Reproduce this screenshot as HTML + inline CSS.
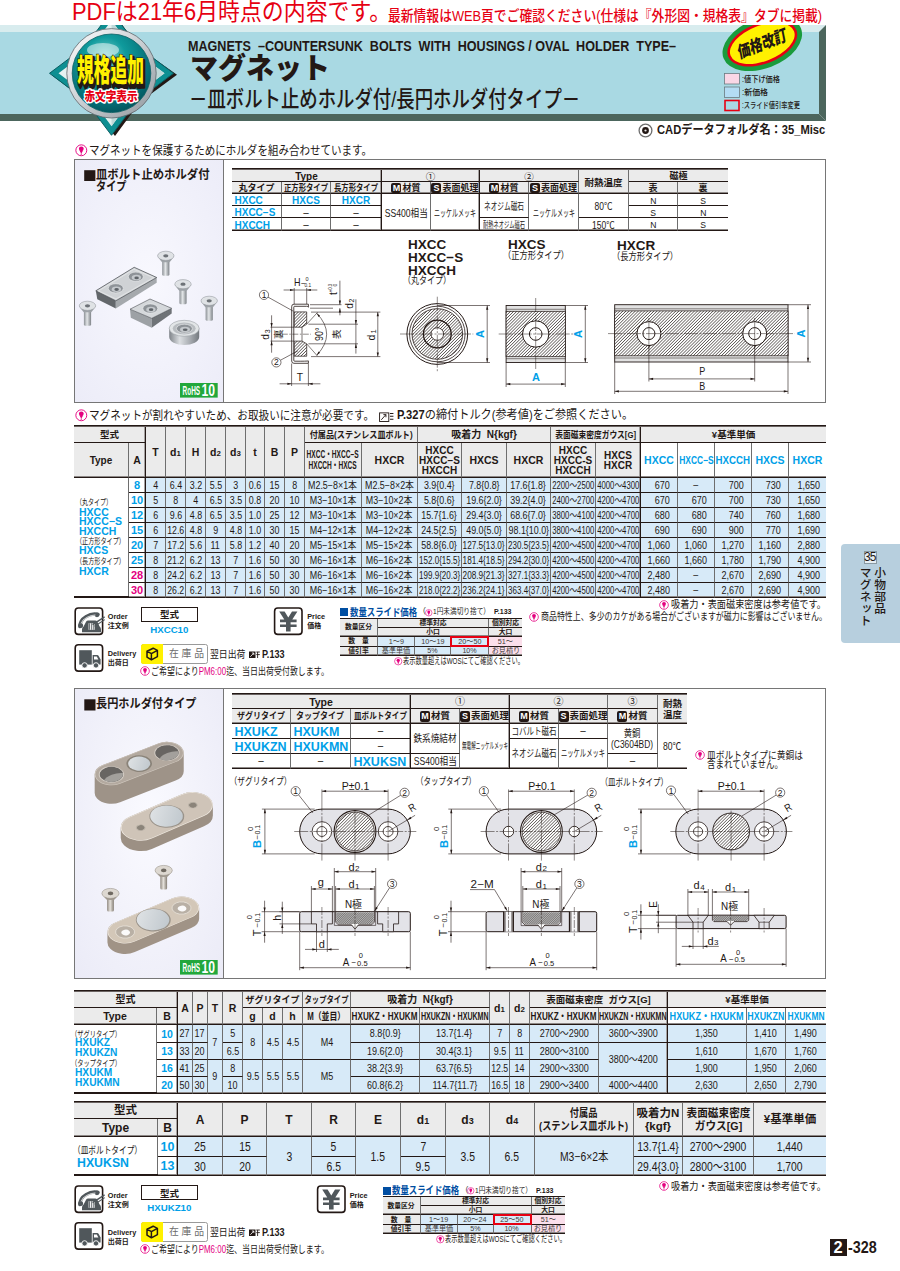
<!DOCTYPE html>
<html lang="ja">
<head>
<meta charset="utf-8">
<title>マグネット −皿ボルト止めホルダ付/長円ホルダ付タイプ−</title>
<style>
html,body{margin:0;padding:0;background:#fff}
#pg{position:relative;width:900px;height:1271px;overflow:hidden;font-family:"Liberation Sans","Noto Sans CJK JP",sans-serif;color:#231815;font-size:10px;line-height:1}
.a{position:absolute}
.t{position:absolute;white-space:nowrap;display:block}
.c{position:absolute;box-sizing:border-box;display:flex;align-items:center;justify-content:center;white-space:nowrap;text-align:center;line-height:1}
svg{position:absolute;overflow:visible}
.bl{color:#009fe8}
.mg{color:#e4007f}
.rd{color:#e60012}
.c{border-right:1px solid #6e6e6e;border-bottom:1px solid #231815;padding-top:1px}
.d3{padding-top:3px}
.nr{border-right:none}
.nb{border-bottom:none}
.tb{box-shadow:inset 0 -1px 0 #8d8886}
.tr{border-right:1px solid #231815;box-shadow:inset -1px 0 0 #a5a1a0}
.tb.tr{box-shadow:inset 0 -1px 0 #8d8886,inset -1px 0 0 #a5a1a0}
.hd{background:#ebebeb;font-weight:700}
.dt{background:#d7eaf8;padding-top:2px}
.pk{background:#fbdfeb}
.ms{display:inline-block;background:#231815;color:#fff;font-weight:700;font-size:9px;line-height:10px;width:10px;height:10.5px;border-radius:2px;margin-right:1px;text-align:center;font-family:"Liberation Sans",sans-serif}
small{font-size:75%}

</style>
</head>
<body>
<div id="pg">
<span class="t" style="top:1.05px;font-size:23.5px;line-height:23.5px;color:#e60012;left:71.5px;transform:scaleX(0.932);transform-origin:left center;">PDFは21年6月時点の内容です。</span>
<span class="t" style="top:8.75px;font-size:14.5px;line-height:14.5px;font-weight:500;color:#e60012;left:388px;transform:scaleX(0.882);transform-origin:left center;">最新情報はWEB頁でご確認ください(仕様は『外形図・規格表』タブに掲載)</span>
<svg style="left:0;top:25px;overflow:hidden" width="900" height="115" viewBox="0 25 900 115"><defs><radialGradient id="gb" cx="0.42" cy="0.3" r="0.75"><stop offset="0" stop-color="#7fd3cf"/><stop offset="0.35" stop-color="#0f9a9c"/><stop offset="0.8" stop-color="#046a72"/><stop offset="1" stop-color="#035058"/></radialGradient><linearGradient id="gr" x1="0" y1="0" x2="1" y2="1"><stop offset="0" stop-color="#ffffff"/><stop offset="0.5" stop-color="#c9ced2"/><stop offset="1" stop-color="#8e969c"/></linearGradient></defs><polygon points="0,114 819,114 826,121 0,121" fill="#4c665d"/><polygon points="819,32 826,25 826,121 819,114" fill="#4c665d"/><rect x="0" y="25" width="826" height="7" fill="#d8ecee"/><rect x="0" y="32" width="819" height="82" fill="#a9d9e3"/><polygon points="819,32 826,25 826,32" fill="#4c665d"/><polygon points="52,75.3 87,48.7 113.5,13.3 140,48.7 177,74.8 140,101.9 115,136 87,101.9" fill="#231815"/><polygon points="49.5,73.3 84.9,46.7 111.5,11.3 138.1,46.7 173.5,73.3 138.1,99.9 111.5,135.3 84.9,99.9" fill="#0e8f92" stroke="#0a5f63" stroke-width="1"/><polygon points="58.5,73.3 90,49.7 111.5,20.3 133,49.7 164.5,73.3 133,96.9 111.5,126.3 90,96.9" fill="#e4f2f1"/><polygon points="111.5,20.3 133,49.7 164.5,73.3 133,96.9 111.5,126.3" fill="#bfd9d9"/><circle cx="111.5" cy="73.3" r="44.7" fill="url(#gr)" stroke="#5d666b" stroke-width="0.8"/><circle cx="111.5" cy="73.3" r="39.3" fill="url(#gb)" stroke="#0a5f63" stroke-width="0.8"/><ellipse cx="103" cy="50" rx="16" ry="7" fill="#ffffff" opacity="0.5"/><text x="110.5" y="81" text-anchor="middle" font-size="30.5" font-weight="900" textLength="67" lengthAdjust="spacingAndGlyphs" fill="#231815" stroke="#231815" stroke-width="4" stroke-linejoin="round" transform="translate(1.5,2.5)">規格追加</text><text x="110.5" y="81" text-anchor="middle" font-size="30.5" font-weight="900" textLength="67" lengthAdjust="spacingAndGlyphs" fill="#fff100" stroke="#231815" stroke-width="1.2" paint-order="stroke">規格追加</text><text x="111" y="100.5" text-anchor="middle" font-size="12.5" font-weight="900" textLength="53" lengthAdjust="spacingAndGlyphs" fill="#e60012" stroke="#ffffff" stroke-width="3" stroke-linejoin="round" paint-order="stroke">赤文字表示</text><g transform="translate(762.3,43.4) rotate(-21)"><ellipse cx="0" cy="0" rx="41.5" ry="25" fill="#1a9b3c"/><ellipse cx="0" cy="0" rx="36.6" ry="20.4" fill="#e60012"/><ellipse cx="0" cy="0" rx="34" ry="17.8" fill="#fff100"/><text x="0" y="6" text-anchor="middle" font-size="16.5" font-weight="900" textLength="52" lengthAdjust="spacingAndGlyphs" fill="#231815" transform="skewX(-10)">価格改訂</text></g><rect x="724.5" y="73.5" width="15" height="10.5" fill="#f9d7e6" stroke="#6b7a80" stroke-width="0.8"/><rect x="724.5" y="87" width="15" height="10.5" fill="#b4dcf4" stroke="#6b7a80" stroke-width="0.8"/><rect x="725" y="100.5" width="14" height="10" fill="#a9d9e3" stroke="#e60012" stroke-width="1.6"/></svg>
<span class="t" style="top:38.5px;font-size:14px;line-height:14px;font-weight:700;color:#231815;left:188px;transform:scaleX(0.899);transform-origin:left center;">MAGNETS &nbsp;–COUNTERSUNK &nbsp;BOLTS &nbsp;WITH &nbsp;HOUSINGS / OVAL &nbsp;HOLDER &nbsp;TYPE–</span>
<span class="t" style="top:55px;font-size:29px;line-height:29px;font-weight:900;color:#231815;left:190px;transform:scaleX(0.965);transform-origin:left center;">マグネット</span>
<span class="t" style="top:89.25px;font-size:22.5px;line-height:22.5px;font-weight:500;color:#231815;left:189px;transform:scaleX(0.817);transform-origin:left center;">－皿ボルト止めホルダ付/長円ホルダ付タイプ－</span>
<span class="t" style="top:74.75px;font-size:8.5px;line-height:8.5px;font-weight:500;color:#231815;left:742px;transform:scaleX(0.847);transform-origin:left center;">:値下げ価格</span>
<span class="t" style="top:88.25px;font-size:8.5px;line-height:8.5px;font-weight:500;color:#231815;left:742px;transform:scaleX(0.933);transform-origin:left center;">:新価格</span>
<span class="t" style="top:101.25px;font-size:8.5px;line-height:8.5px;font-weight:500;color:#231815;left:742px;transform:scaleX(0.735);transform-origin:left center;">:スライド値引率変更</span>
<svg style="left:638px;top:122.7px" width="15" height="15" viewBox="0 0 15 15"><circle cx="7.5" cy="7.5" r="6.4" fill="#fff" stroke="#6d6d6d" stroke-width="1.3"/><circle cx="7.5" cy="7.5" r="3.4" fill="#231815"/><circle cx="7.5" cy="7.5" r="1.1" fill="#e8e8e8"/></svg>
<span class="t" style="top:124.05px;font-size:12.5px;line-height:12.5px;font-weight:700;color:#231815;left:656.7px;transform:scaleX(0.894);transform-origin:left center;">CADデータフォルダ名：35_Misc</span>
<svg style="left:74.7px;top:144px" width="12.6" height="12.6" viewBox="0 0 12 12"><circle cx="6" cy="6" r="5.2" fill="#fff" stroke="#e4007f" stroke-width="0.9"/><circle cx="6" cy="4.6" r="2.3" fill="#e4007f"/><polygon points="4.3,6.2 7.7,6.2 6,9.4" fill="#e4007f"/><rect x="5.3" y="9.2" width="1.4" height="0.9" fill="#e4007f"/></svg>
<span class="t" style="top:144.5px;font-size:12px;line-height:12px;left:88.5px;transform:scaleX(0.877);transform-origin:left center;">マグネットを保護するためにホルダを組み合わせています。</span>
<div class="a" style="left:74px;top:159px;width:752px;height:244px;border:1px solid #767676;box-sizing:border-box;"></div>
<div class="a" style="left:75px;top:160px;width:148px;height:242px;background:radial-gradient(ellipse at 50% 50%,#f8f8fe 0%,#f2f2fb 50%,#ececf8 100%);"></div>
<div class="a" style="left:223px;top:160px;width:1px;height:242px;background:#767676;"></div>
<svg style="left:84px;top:170px" width="12" height="12"><rect x="0.2" y="0.2" width="11.2" height="10.8" fill="#231815"/></svg>
<span class="t" style="top:169.35px;font-size:12.5px;line-height:12.5px;font-weight:700;left:96.2px;transform:scaleX(0.908);transform-origin:left center;">皿ボルト止めホルダ付</span>
<span class="t" style="top:181.15px;font-size:12.5px;line-height:12.5px;font-weight:700;left:96.2px;transform:scaleX(0.813);transform-origin:left center;">タイプ</span>
<svg style="left:75px;top:240px" width="150" height="160" viewBox="75 240 150 160"><defs><linearGradient id="gsh" x1="0" y1="0" x2="1" y2="0"><stop offset="0" stop-color="#8b9095"/><stop offset="0.45" stop-color="#e3e6e8"/><stop offset="1" stop-color="#7d8287"/></linearGradient><linearGradient id="gcy" x1="0" y1="0" x2="1" y2="0"><stop offset="0" stop-color="#7f8489"/><stop offset="0.35" stop-color="#dcdfe2"/><stop offset="0.7" stop-color="#a7abb0"/><stop offset="1" stop-color="#74797e"/></linearGradient></defs><rect x="162.2" y="256.8" width="7.2" height="19" rx="1.5" fill="url(#gsh)"/><path d="M157.6,255.8 Q160.8,261.3 162.2,262.3 L169.4,262.3 Q170.8,261.3 174,255.8 Z" fill="#9ea3a8"/><ellipse cx="165.8" cy="255.8" rx="8.2" ry="4.6" fill="#dfe2e5" stroke="#8a8f94" stroke-width="0.5"/><ellipse cx="165.8" cy="255.8" rx="2.6" ry="1.6" fill="#6d7277"/><rect x="179.4" y="285.2" width="7.2" height="19" rx="1.5" fill="url(#gsh)"/><path d="M174.8,284.2 Q178,289.7 179.4,290.7 L186.6,290.7 Q188,289.7 191.2,284.2 Z" fill="#9ea3a8"/><ellipse cx="183" cy="284.2" rx="8.2" ry="4.6" fill="#dfe2e5" stroke="#8a8f94" stroke-width="0.5"/><ellipse cx="183" cy="284.2" rx="2.6" ry="1.6" fill="#6d7277"/><rect x="205.6" y="301.8" width="7.2" height="19" rx="1.5" fill="url(#gsh)"/><path d="M201,300.8 Q204.2,306.3 205.6,307.3 L212.8,307.3 Q214.2,306.3 217.4,300.8 Z" fill="#9ea3a8"/><ellipse cx="209.2" cy="300.8" rx="8.2" ry="4.6" fill="#dfe2e5" stroke="#8a8f94" stroke-width="0.5"/><ellipse cx="209.2" cy="300.8" rx="2.6" ry="1.6" fill="#6d7277"/><rect x="83.9" y="306.8" width="7.2" height="19" rx="1.5" fill="url(#gsh)"/><path d="M79.3,305.8 Q82.5,311.3 83.9,312.3 L91.1,312.3 Q92.5,311.3 95.7,305.8 Z" fill="#9ea3a8"/><ellipse cx="87.5" cy="305.8" rx="8.2" ry="4.6" fill="#dfe2e5" stroke="#8a8f94" stroke-width="0.5"/><ellipse cx="87.5" cy="305.8" rx="2.6" ry="1.6" fill="#6d7277"/><polygon points="95.8,290.8 115.8,300.8 115.8,308.6 97.3,299.3" fill="#63676b"/><polygon points="115.8,300.8 156.7,277.5 156.7,282.7 115.8,308.6" fill="#a5a9ad"/><polygon points="95.8,290.8 134.2,267.3 156.7,277.5 115.8,300.8" fill="#d3d6d9" stroke="#3f4347" stroke-width="0.7"/><polygon points="98.5,290.9 133.9,269.3 153.6,277.6 116,298.9" fill="#cfd2d5" stroke="#eceeef" stroke-width="0.6"/><ellipse cx="115.8" cy="288.3" rx="7.5" ry="4.6" fill="#8e9398" stroke="#eef0f1" stroke-width="0.6"/><ellipse cx="116.4" cy="289.2" rx="4.65" ry="2.76" fill="#c4c8cc"/><ellipse cx="116.6" cy="289.5" rx="2.25" ry="1.38" fill="#5f6469"/><ellipse cx="135.8" cy="276.7" rx="7.5" ry="4.6" fill="#8e9398" stroke="#eef0f1" stroke-width="0.6"/><ellipse cx="136.4" cy="277.6" rx="4.65" ry="2.76" fill="#c4c8cc"/><ellipse cx="136.6" cy="277.9" rx="2.25" ry="1.38" fill="#5f6469"/><polygon points="130,309.2 151.7,318.3 151.7,327.7 130.8,317.7" fill="#9da1a5"/><polygon points="151.7,318.3 171.7,308.3 171.7,313.5 151.7,327.7" fill="#6f7377"/><polygon points="130,309.2 150,299 171.7,308.3 151.7,318.3" fill="#d5d8db" stroke="#4a4e52" stroke-width="0.6"/><ellipse cx="150.3" cy="308.5" rx="7.5" ry="4.6" fill="#8e9398" stroke="#eef0f1" stroke-width="0.6"/><ellipse cx="150.9" cy="309.4" rx="4.65" ry="2.76" fill="#c4c8cc"/><ellipse cx="151.1" cy="309.7" rx="2.25" ry="1.38" fill="#5f6469"/><path d="M169.2,328.3 L169.2,337 A15,8 0 0 0 199.2,337 L199.2,328.3 Z" fill="url(#gcy)"/><ellipse cx="184.2" cy="328.3" rx="15" ry="8" fill="#e2e5e7" stroke="#9a9fa4" stroke-width="0.6"/><ellipse cx="184.2" cy="328.6" rx="11.5" ry="6" fill="#b9bdc1"/><ellipse cx="184.4" cy="328.6" rx="8" ry="4.4" fill="#8e9398" stroke="#eef0f1" stroke-width="0.6"/><ellipse cx="185" cy="329.5" rx="4.96" ry="2.64" fill="#c4c8cc"/><ellipse cx="185.2" cy="329.8" rx="2.4" ry="1.32" fill="#5f6469"/></svg>
<svg style="left:180.2px;top:383.4px" width="38" height="15" viewBox="0 0 38 15" font-family="'Liberation Sans',sans-serif" font-weight="700" fill="#fff"><rect width="37.7" height="14.6" fill="#22a73b"/><text x="2.6" y="11.8" font-size="12.2" textLength="17.5" lengthAdjust="spacingAndGlyphs">RoHS</text><text x="21.6" y="12.9" font-size="16" textLength="13.5" lengthAdjust="spacingAndGlyphs">10</text></svg>
<div class="a" style="left:232px;top:168px;width:496px;height:2px;z-index:2;background:linear-gradient(#231815 50%,#6a6361 50%);"></div>
<div class="c hd tr d3" style="left:232px;top:169px;width:150px;height:13px;font-size:10px;">Type</div>
<div class="c hd tr d3" style="left:382px;top:169px;width:98px;height:13px;font-size:9.5px;font-weight:400;">①</div>
<div class="c hd d3" style="left:480px;top:169px;width:99px;height:13px;font-size:9.5px;font-weight:400;">②</div>
<div class="c hd tb d3" style="left:579px;top:169px;width:50px;height:25px;font-size:9.5px;">耐熱温度</div>
<div class="c hd nr d3" style="left:629px;top:169px;width:99px;height:13px;font-size:9px;">磁極</div>
<div class="c hd tb" style="left:232px;top:182px;width:50px;height:12px;font-size:9px;">丸タイプ</div>
<div class="c hd tb" style="left:282px;top:182px;width:49px;height:12px;font-size:9px;"><span style="display:inline-block;transform:scaleX(0.815);transform-origin:center center">正方形タイプ</span></div>
<div class="c hd tb tr" style="left:331px;top:182px;width:51px;height:12px;font-size:9px;"><span style="display:inline-block;transform:scaleX(0.815);transform-origin:center center">長方形タイプ</span></div>
<div class="c hd tb" style="left:382px;top:182px;width:49px;height:12px;font-size:9px;"><span><span class="ms">M</span>材質</span></div>
<div class="c hd tb tr" style="left:431px;top:182px;width:49px;height:12px;font-size:9px;"><span><span class="ms">S</span>表面処理</span></div>
<div class="c hd tb" style="left:480px;top:182px;width:49px;height:12px;font-size:9px;"><span><span class="ms">M</span>材質</span></div>
<div class="c hd tb" style="left:529px;top:182px;width:50px;height:12px;font-size:9px;"><span><span class="ms">S</span>表面処理</span></div>
<div class="c hd tb" style="left:629px;top:182px;width:49px;height:12px;font-size:9px;">表</div>
<div class="c hd tb nr" style="left:678px;top:182px;width:50px;height:12px;font-size:9px;">裏</div>
<div class="c bl d3" style="left:232px;top:194px;width:50px;height:12px;font-size:10px;font-weight:700;justify-content:flex-start;padding-left:2.5px;">HXCC</div>
<div class="c bl d3" style="left:282px;top:194px;width:49px;height:12px;font-size:10px;font-weight:700;">HXCS</div>
<div class="c bl tr d3" style="left:331px;top:194px;width:51px;height:12px;font-size:10px;font-weight:700;">HXCR</div>
<div class="c bl d3" style="left:232px;top:206px;width:50px;height:12px;font-size:10px;font-weight:700;justify-content:flex-start;padding-left:2.5px;">HXCC−S</div>
<div class="c d3" style="left:282px;top:206px;width:49px;height:12px;font-size:11px;font-weight:400;">−</div>
<div class="c tr d3" style="left:331px;top:206px;width:51px;height:12px;font-size:11px;font-weight:400;">−</div>
<div class="c bl tb d3" style="left:232px;top:218px;width:50px;height:13px;font-size:10px;font-weight:700;justify-content:flex-start;padding-left:2.5px;">HXCCH</div>
<div class="c tb d3" style="left:282px;top:218px;width:49px;height:13px;font-size:11px;font-weight:400;">−</div>
<div class="c tb tr d3" style="left:331px;top:218px;width:51px;height:13px;font-size:11px;font-weight:400;">−</div>
<div class="c tb d3" style="left:382px;top:194px;width:49px;height:37px;font-size:10.5px;"><span style="display:inline-block;transform:scaleX(0.819);transform-origin:center center">SS400相当</span></div>
<div class="c tb tr d3" style="left:431px;top:194px;width:49px;height:37px;font-size:10px;"><span style="display:inline-block;transform:scaleX(0.600);transform-origin:center center">ニッケルメッキ</span></div>
<div class="c d3" style="left:480px;top:194px;width:49px;height:24px;font-size:10px;"><span style="display:inline-block;transform:scaleX(0.667);transform-origin:center center">ネオジム磁石</span></div>
<div class="c tb d3" style="left:480px;top:218px;width:49px;height:13px;font-size:9px;"><span style="display:inline-block;transform:scaleX(0.583);transform-origin:center center">耐熱ネオジム磁石</span></div>
<div class="c tb d3" style="left:529px;top:194px;width:50px;height:37px;font-size:10px;"><span style="display:inline-block;transform:scaleX(0.600);transform-origin:center center">ニッケルメッキ</span></div>
<div class="c d3" style="left:579px;top:194px;width:50px;height:24px;font-size:10px;"><span style="display:inline-block;transform:scaleX(0.850);transform-origin:center center">80℃</span></div>
<div class="c tb d3" style="left:579px;top:218px;width:50px;height:13px;font-size:10px;"><span style="display:inline-block;transform:scaleX(0.850);transform-origin:center center">150℃</span></div>
<div class="c" style="left:629px;top:194px;width:49px;height:12px;font-size:9.5px;padding-top:2px;"><span style="display:inline-block;transform:scaleX(0.900);transform-origin:center center">N</span></div>
<div class="c nr" style="left:678px;top:194px;width:50px;height:12px;font-size:9.5px;padding-top:2px;"><span style="display:inline-block;transform:scaleX(0.900);transform-origin:center center">S</span></div>
<div class="c" style="left:629px;top:206px;width:49px;height:12px;font-size:9.5px;padding-top:2px;"><span style="display:inline-block;transform:scaleX(0.900);transform-origin:center center">S</span></div>
<div class="c nr" style="left:678px;top:206px;width:50px;height:12px;font-size:9.5px;padding-top:2px;"><span style="display:inline-block;transform:scaleX(0.900);transform-origin:center center">N</span></div>
<div class="c tb" style="left:629px;top:218px;width:49px;height:13px;font-size:9.5px;padding-top:2px;"><span style="display:inline-block;transform:scaleX(0.900);transform-origin:center center">N</span></div>
<div class="c nr tb" style="left:678px;top:218px;width:50px;height:13px;font-size:9.5px;padding-top:2px;"><span style="display:inline-block;transform:scaleX(0.900);transform-origin:center center">S</span></div>
<svg style="left:224px;top:232px" width="602" height="170" viewBox="224 232 602 170" font-family="'Liberation Sans','Noto Sans CJK JP',sans-serif"><defs><pattern id="h1" width="2.2" height="2.2" patternUnits="userSpaceOnUse" patternTransform="rotate(45)"><rect width="2.2" height="2.2" fill="#fff"/><line x1="0" y1="0" x2="0" y2="2.2" stroke="#2e2825" stroke-width="1.15"/></pattern><pattern id="h2" width="1.7" height="1.7" patternUnits="userSpaceOnUse" patternTransform="rotate(45)"><rect width="1.7" height="1.7" fill="#fff"/><line x1="0" y1="0" x2="0" y2="1.7" stroke="#3a3431" stroke-width="0.6"/></pattern></defs><path d="M308.4,304.2 L294,304.2 Q291.7,304.2 291.7,306.5 L291.7,361 Q291.7,363.3 294,363.3 L308.4,363.3 L308.4,360.9 Q307.2,361.3 294.6,361.2 Q293.8,361.2 293.8,360.4 L293.8,307.1 Q293.8,306.3 294.6,306.3 L306.6,306.3 Q308,306.4 308.4,307.2 Z" fill="#fff" stroke="#231815" stroke-width="0.8"/><polygon points="294.3,311.9 306.7,311.9 306.7,324.2 302,327.2 294.3,327.2" fill="url(#h1)" stroke="#231815" stroke-width="0.7"/><polygon points="294.3,341.1 302,341.1 306.7,343.8 306.7,356.2 294.3,356.2" fill="url(#h1)" stroke="#231815" stroke-width="0.7"/><line x1="302" y1="327.2" x2="302" y2="341.1" stroke="#231815" stroke-width="0.6"/><line x1="281.8" y1="334.2" x2="311" y2="334.2" stroke="#231815" stroke-width="0.5" stroke-dasharray="6 1.5 1.5 1.5"/><line x1="294.2" y1="288" x2="294.2" y2="304" stroke="#231815" stroke-width="0.6"/><line x1="306.7" y1="288" x2="306.7" y2="304" stroke="#231815" stroke-width="0.6"/><line x1="283.6" y1="290" x2="317.3" y2="290" stroke="#231815" stroke-width="0.6"/><polygon points="294.2,290 290,291.1 290,288.9" fill="#231815"/><polygon points="306.7,290 310.9,288.9 310.9,291.1" fill="#231815"/><text x="294" y="286" font-size="11" fill="#231815" textLength="6.5" lengthAdjust="spacingAndGlyphs">H</text><text x="301" y="285.5" font-size="8" fill="#231815">−</text><text x="305.5" y="280.6" font-size="5.5" fill="#231815">0</text><text x="304.5" y="287.2" font-size="5.5" fill="#231815" textLength="6.5" lengthAdjust="spacingAndGlyphs">0.1</text><line x1="310" y1="304.7" x2="341.5" y2="304.7" stroke="#231815" stroke-width="0.6"/><line x1="310" y1="308.2" x2="333" y2="308.2" stroke="#231815" stroke-width="0.6"/><line x1="311" y1="312.1" x2="380.4" y2="312.1" stroke="#231815" stroke-width="0.6"/><line x1="339.9" y1="280.7" x2="339.9" y2="304.7" stroke="#231815" stroke-width="0.6"/><polygon points="339.9,304.7 338.8,300.5 341,300.5" fill="#231815"/><line x1="339.9" y1="308.2" x2="339.9" y2="315.3" stroke="#231815" stroke-width="0.6"/><polygon points="339.9,308.2 341,312.4 338.8,312.4" fill="#231815"/><text x="336.5" y="293.5" font-size="10" fill="#231815" text-anchor="middle" transform="rotate(-90 336.5 293.5)">t</text><text x="331.8" y="288" font-size="5" fill="#231815" text-anchor="middle" textLength="8.5" lengthAdjust="spacingAndGlyphs" transform="rotate(-90 331.8 288)">+0.3</text><text x="336.6" y="285" font-size="5" fill="#231815" text-anchor="middle" transform="rotate(-90 336.6 285)">0</text><line x1="308.4" y1="324.2" x2="358" y2="324.2" stroke="#231815" stroke-width="0.6"/><line x1="308.4" y1="343.8" x2="358" y2="343.8" stroke="#231815" stroke-width="0.6"/><line x1="355.9" y1="299.3" x2="355.9" y2="353.6" stroke="#231815" stroke-width="0.6"/><polygon points="355.9,324.2 354.8,320 357,320" fill="#231815"/><polygon points="355.9,343.8 357,348 354.8,348" fill="#231815"/><text x="353.2" y="306" font-size="10" fill="#231815" text-anchor="middle" transform="rotate(-90 353.2 306)">d</text><text x="353.5" y="300.5" font-size="7" fill="#231815" text-anchor="middle" transform="rotate(-90 353.5 300.5)">2</text><line x1="311" y1="356.6" x2="380.4" y2="356.6" stroke="#231815" stroke-width="0.6"/><line x1="377.8" y1="312.1" x2="377.8" y2="356.6" stroke="#231815" stroke-width="0.6"/><polygon points="377.8,312.1 378.9,316.3 376.7,316.3" fill="#231815"/><polygon points="377.8,356.6 376.7,352.4 378.9,352.4" fill="#231815"/><text x="375.2" y="337.5" font-size="10.5" fill="#231815" text-anchor="middle" transform="rotate(-90 375.2 337.5)">d</text><text x="375.5" y="331.5" font-size="7.5" fill="#231815" text-anchor="middle" transform="rotate(-90 375.5 331.5)">1</text><line x1="306.7" y1="324.2" x2="317.6" y2="312.3" stroke="#231815" stroke-width="0.55"/><line x1="306.7" y1="343.8" x2="317.6" y2="356.2" stroke="#231815" stroke-width="0.55"/><path d="M316.8,313.3 Q336.5,334.2 316.8,355.2" fill="none" stroke="#231815" stroke-width="0.6"/><polygon points="316.8,313.3 320.08,315.8 318.52,317.05" fill="#231815"/><polygon points="316.8,355.2 318.52,351.45 320.08,352.7" fill="#231815"/><text x="323.2" y="334.2" font-size="10" fill="#231815" text-anchor="middle" textLength="13.5" lengthAdjust="spacingAndGlyphs" transform="rotate(-90 323.2 334.2)">90°</text><text x="339.6" y="334.2" font-size="9.5" fill="#231815" text-anchor="middle" transform="rotate(-90 339.6 334.2)">表</text><text x="281.8" y="334.2" font-size="9.5" fill="#231815" text-anchor="middle" transform="rotate(-90 281.8 334.2)">裏</text><line x1="270.5" y1="327.2" x2="294" y2="327.2" stroke="#231815" stroke-width="0.6"/><line x1="270.5" y1="341.1" x2="294" y2="341.1" stroke="#231815" stroke-width="0.6"/><line x1="271.6" y1="315.3" x2="271.6" y2="352.7" stroke="#231815" stroke-width="0.6"/><polygon points="271.6,327.2 270.5,323 272.7,323" fill="#231815"/><polygon points="271.6,341.1 272.7,345.3 270.5,345.3" fill="#231815"/><text x="269.3" y="337" font-size="10" fill="#231815" text-anchor="middle" transform="rotate(-90 269.3 337)">d</text><text x="269.6" y="331.3" font-size="7" fill="#231815" text-anchor="middle" transform="rotate(-90 269.6 331.3)">3</text><line x1="291.6" y1="363.5" x2="291.6" y2="386" stroke="#231815" stroke-width="0.6"/><line x1="308.4" y1="363.5" x2="308.4" y2="386" stroke="#231815" stroke-width="0.6"/><line x1="279.6" y1="383.8" x2="320.4" y2="383.8" stroke="#231815" stroke-width="0.6"/><polygon points="291.6,383.8 287.4,384.9 287.4,382.7" fill="#231815"/><polygon points="308.4,383.8 312.6,382.7 312.6,384.9" fill="#231815"/><text x="300" y="381.3" font-size="11" fill="#231815" text-anchor="middle" textLength="6.3" lengthAdjust="spacingAndGlyphs">T</text><line x1="268.02" y1="297.14" x2="293.3" y2="311.2" stroke="#231815" stroke-width="0.6"/><circle cx="264" cy="294.9" r="4.6" fill="#fff" stroke="#231815" stroke-width="0.6"/><text x="264" y="297.9" font-size="8.5" fill="#231815" text-anchor="middle">1</text><line x1="280.45" y1="360.22" x2="297.8" y2="350.9" stroke="#231815" stroke-width="0.6"/><circle cx="276.4" cy="362.4" r="4.6" fill="#fff" stroke="#231815" stroke-width="0.6"/><text x="276.4" y="365.4" font-size="8.5" fill="#231815" text-anchor="middle">2</text><circle cx="437.3" cy="334" r="30.4" fill="#fff" stroke="#231815" stroke-width="1.0"/><circle cx="437.3" cy="334" r="27.8" fill="none" stroke="#231815" stroke-width="0.8"/><circle cx="437.3" cy="334" r="25.3" fill="url(#h1)" stroke="#231815" stroke-width="0.8"/><circle cx="437.3" cy="334" r="13.9" fill="none" stroke="#231815" stroke-width="1.3"/><circle cx="437.3" cy="334" r="6.3" fill="#fff" stroke="#231815" stroke-width="0.8"/><line x1="400" y1="334" x2="473.3" y2="334" stroke="#231815" stroke-width="0.5" stroke-dasharray="14 1.5 2 1.5"/><line x1="437.3" y1="296.7" x2="437.3" y2="372.7" stroke="#231815" stroke-width="0.5" stroke-dasharray="14 1.5 2 1.5"/><line x1="437.3" y1="305.5" x2="490" y2="305.5" stroke="#231815" stroke-width="0.6"/><line x1="437.3" y1="362.5" x2="490" y2="362.5" stroke="#231815" stroke-width="0.6"/><line x1="487.2" y1="305.5" x2="487.2" y2="362.5" stroke="#231815" stroke-width="0.6"/><polygon points="487.2,305.5 488.3,309.7 486.1,309.7" fill="#231815"/><polygon points="487.2,362.5 486.1,358.3 488.3,358.3" fill="#231815"/><text x="484.2" y="334" font-size="11" font-weight="700" fill="#009fe8" text-anchor="middle" transform="rotate(-90 484.2 334)">A</text><rect x="506.1" y="305.5" width="59.2" height="57" fill="#e2e2e2" stroke="#231815" stroke-width="0.9"/><rect x="506.1" y="311.3" width="59.2" height="45.4" fill="url(#h1)" stroke="#231815" stroke-width="0.7"/><line x1="506.1" y1="309.3" x2="565.3" y2="309.3" stroke="#231815" stroke-width="0.5"/><line x1="506.1" y1="358.7" x2="565.3" y2="358.7" stroke="#231815" stroke-width="0.5"/><circle cx="535.7" cy="334" r="13.2" fill="#fff" stroke="#231815" stroke-width="1.0"/><circle cx="535.7" cy="334" r="6.3" fill="#fff" stroke="#231815" stroke-width="1.0"/><line x1="498.7" y1="334" x2="573.3" y2="334" stroke="#231815" stroke-width="0.5" stroke-dasharray="14 1.5 2 1.5"/><line x1="535.7" y1="298" x2="535.7" y2="370" stroke="#231815" stroke-width="0.5" stroke-dasharray="14 1.5 2 1.5"/><line x1="565.3" y1="305.5" x2="588" y2="305.5" stroke="#231815" stroke-width="0.6"/><line x1="565.3" y1="362.5" x2="588" y2="362.5" stroke="#231815" stroke-width="0.6"/><line x1="585.3" y1="305.5" x2="585.3" y2="362.5" stroke="#231815" stroke-width="0.6"/><polygon points="585.3,305.5 586.4,309.7 584.2,309.7" fill="#231815"/><polygon points="585.3,362.5 584.2,358.3 586.4,358.3" fill="#231815"/><text x="582.2" y="334" font-size="11" font-weight="700" fill="#009fe8" text-anchor="middle" transform="rotate(-90 582.2 334)">A</text><line x1="506.1" y1="362.5" x2="506.1" y2="387" stroke="#231815" stroke-width="0.6"/><line x1="565.3" y1="362.5" x2="565.3" y2="387" stroke="#231815" stroke-width="0.6"/><line x1="506.1" y1="384.1" x2="565.3" y2="384.1" stroke="#231815" stroke-width="0.6"/><polygon points="506.1,384.1 510.3,383 510.3,385.2" fill="#231815"/><polygon points="565.3,384.1 561.1,385.2 561.1,383" fill="#231815"/><text x="536" y="381.2" font-size="11" font-weight="700" fill="#009fe8" text-anchor="middle">A</text><rect x="614.7" y="304.7" width="173.3" height="57.3" fill="#e2e2e2" stroke="#231815" stroke-width="0.9"/><rect x="614.7" y="310.9" width="173.3" height="44.9" fill="url(#h1)" stroke="#231815" stroke-width="0.7"/><line x1="614.7" y1="308.8" x2="788" y2="308.8" stroke="#231815" stroke-width="0.5"/><line x1="614.7" y1="358" x2="788" y2="358" stroke="#231815" stroke-width="0.5"/><circle cx="648.9" cy="333.6" r="12" fill="#fff" stroke="#231815" stroke-width="1.0"/><circle cx="648.9" cy="333.6" r="6" fill="#fff" stroke="#231815" stroke-width="1.0"/><line x1="648.9" y1="318" x2="648.9" y2="349" stroke="#231815" stroke-width="0.5"/><line x1="648.9" y1="345" x2="648.9" y2="381.5" stroke="#231815" stroke-width="0.6"/><circle cx="754.7" cy="333.6" r="12" fill="#fff" stroke="#231815" stroke-width="1.0"/><circle cx="754.7" cy="333.6" r="6" fill="#fff" stroke="#231815" stroke-width="1.0"/><line x1="754.7" y1="318" x2="754.7" y2="349" stroke="#231815" stroke-width="0.5"/><line x1="754.7" y1="345" x2="754.7" y2="381.5" stroke="#231815" stroke-width="0.6"/><line x1="608" y1="333.6" x2="794.7" y2="333.6" stroke="#231815" stroke-width="0.5" stroke-dasharray="14 1.5 2 1.5"/><line x1="788" y1="304.7" x2="811" y2="304.7" stroke="#231815" stroke-width="0.6"/><line x1="788" y1="362" x2="811" y2="362" stroke="#231815" stroke-width="0.6"/><line x1="808" y1="304.7" x2="808" y2="362" stroke="#231815" stroke-width="0.6"/><polygon points="808,304.7 809.1,308.9 806.9,308.9" fill="#231815"/><polygon points="808,362 806.9,357.8 809.1,357.8" fill="#231815"/><text x="804.9" y="333.6" font-size="11" font-weight="700" fill="#009fe8" text-anchor="middle" transform="rotate(-90 804.9 333.6)">A</text><line x1="648.9" y1="378.9" x2="754.7" y2="378.9" stroke="#231815" stroke-width="0.6"/><polygon points="648.9,378.9 653.1,377.8 653.1,380" fill="#231815"/><polygon points="754.7,378.9 750.5,380 750.5,377.8" fill="#231815"/><text x="702.2" y="375.2" font-size="10.5" fill="#231815" text-anchor="middle" textLength="6" lengthAdjust="spacingAndGlyphs">P</text><line x1="614.7" y1="362" x2="614.7" y2="394" stroke="#231815" stroke-width="0.6"/><line x1="788" y1="362" x2="788" y2="394" stroke="#231815" stroke-width="0.6"/><line x1="614.7" y1="391.3" x2="788" y2="391.3" stroke="#231815" stroke-width="0.6"/><polygon points="614.7,391.3 618.9,390.2 618.9,392.4" fill="#231815"/><polygon points="788,391.3 783.8,392.4 783.8,390.2" fill="#231815"/><text x="702.2" y="389.6" font-size="10.5" fill="#231815" text-anchor="middle" textLength="6" lengthAdjust="spacingAndGlyphs">B</text><text x="408" y="248.7" font-size="13.5" font-weight="700" fill="#231815">HXCC</text><text x="408" y="262" font-size="13.5" font-weight="700" fill="#231815">HXCC−S</text><text x="408" y="275.3" font-size="13.5" font-weight="700" fill="#231815">HXCCH</text><text x="403" y="284.3" font-size="10" fill="#231815" textLength="48" lengthAdjust="spacingAndGlyphs">（丸タイプ）</text><text x="508" y="248.7" font-size="13.5" font-weight="700" fill="#231815">HXCS</text><text x="503" y="258.6" font-size="10" fill="#231815" textLength="66" lengthAdjust="spacingAndGlyphs">（正方形タイプ）</text><text x="617" y="250.2" font-size="13.5" font-weight="700" fill="#231815">HXCR</text><text x="612" y="260.4" font-size="10" fill="#231815" textLength="66" lengthAdjust="spacingAndGlyphs">（長方形タイプ）</text></svg>
<svg style="left:74.7px;top:409px" width="12.6" height="12.6" viewBox="0 0 12 12"><circle cx="6" cy="6" r="5.2" fill="#fff" stroke="#e4007f" stroke-width="0.9"/><circle cx="6" cy="4.6" r="2.3" fill="#e4007f"/><polygon points="4.3,6.2 7.7,6.2 6,9.4" fill="#e4007f"/><rect x="5.3" y="9.2" width="1.4" height="0.9" fill="#e4007f"/></svg>
<span class="t" style="top:409.5px;font-size:12px;line-height:12px;left:88.5px;transform:scaleX(0.883);transform-origin:left center;">マグネットが割れやすいため、お取扱いに注意が必要です。</span>
<svg style="left:379px;top:409.5px" width="15" height="12.7" viewBox="0 0 13 11"><rect x="0.5" y="2.5" width="8" height="7.5" fill="#fff" stroke="#231815" stroke-width="0.8"/><path d="M2,8.5 L6,4 M6,4 L6,6.3 M6,4 L3.8,4" stroke="#231815" stroke-width="0.8" fill="none"/><path d="M9.5,3 h3 M9.5,5.5 h3 M9.5,8 h3" stroke="#231815" stroke-width="0.9"/></svg>
<span class="t" style="top:409.25px;font-size:12.5px;line-height:12.5px;left:397px;transform:scaleX(0.893);transform-origin:left center;"><b>P.327</b>の締付トルク(参考値)をご参照ください。</span>
<div class="a" style="left:74px;top:425px;width:752px;height:2px;z-index:2;background:linear-gradient(#231815 50%,#6a6361 50%);"></div>
<div class="c hd tr" style="left:74px;top:426px;width:72px;height:17px;font-size:9.5px;">型式</div>
<div class="c hd tb" style="left:74px;top:443px;width:55px;height:35px;font-size:10px;">Type</div>
<div class="c hd tb tr" style="left:129px;top:443px;width:17px;height:35px;font-size:10.5px;">A</div>
<div class="c hd tb" style="left:146px;top:426px;width:20px;height:52px;font-size:10.5px;">T</div>
<div class="c hd tb" style="left:166px;top:426px;width:20px;height:52px;font-size:10.5px;"><span>d<small>1</small></span></div>
<div class="c hd tb" style="left:186px;top:426px;width:20px;height:52px;font-size:10.5px;">H</div>
<div class="c hd tb" style="left:206px;top:426px;width:20px;height:52px;font-size:10.5px;"><span>d<small>2</small></span></div>
<div class="c hd tb" style="left:226px;top:426px;width:20px;height:52px;font-size:10.5px;"><span>d<small>3</small></span></div>
<div class="c hd tb" style="left:246px;top:426px;width:19px;height:52px;font-size:10.5px;">t</div>
<div class="c hd tb" style="left:265px;top:426px;width:20px;height:52px;font-size:10.5px;">B</div>
<div class="c hd tb" style="left:285px;top:426px;width:20px;height:52px;font-size:10.5px;">P</div>
<div class="c hd" style="left:305px;top:426px;width:113px;height:17px;font-size:9.5px;"><span style="display:inline-block;transform:scaleX(0.856);transform-origin:center center">付属品(ステンレス皿ボルト)</span></div>
<div class="c hd tb" style="left:305px;top:443px;width:57px;height:35px;font-size:10px;font-weight:700;line-height:10.5px;"><span style="display:inline-block;transform:scaleX(0.657);transform-origin:center center">HXCC・HXCC−S<br>HXCCH・HXCS</span></div>
<div class="c hd tb" style="left:362px;top:443px;width:56px;height:35px;font-size:10.5px;">HXCR</div>
<div class="c hd" style="left:418px;top:426px;width:133px;height:17px;font-size:10px;">吸着力&nbsp; N{kgf}</div>
<div class="c hd tb" style="left:418px;top:443px;width:44px;height:35px;font-size:10px;line-height:10px;"><span>HXCC<br>HXCC−S<br>HXCCH</span></div>
<div class="c hd tb" style="left:462px;top:443px;width:45px;height:35px;font-size:10.5px;">HXCS</div>
<div class="c hd tb" style="left:507px;top:443px;width:44px;height:35px;font-size:10.5px;">HXCR</div>
<div class="c hd tr" style="left:551px;top:426px;width:90px;height:17px;font-size:9.5px;"><span style="display:inline-block;transform:scaleX(0.815);transform-origin:center center">表面磁束密度ガウス[G]</span></div>
<div class="c hd tb" style="left:551px;top:443px;width:45px;height:35px;font-size:10px;line-height:10px;"><span>HXCC<br>HXCC-S<br>HXCCH</span></div>
<div class="c hd tb tr" style="left:596px;top:443px;width:45px;height:35px;font-size:10px;line-height:10px;"><span>HXCS<br>HXCR</span></div>
<div class="c hd nr" style="left:641px;top:426px;width:185px;height:17px;font-size:9.5px;">¥基準単価</div>
<div class="c bl tb" style="left:641px;top:443px;width:37px;height:35px;font-size:10.5px;font-weight:700;background:#fff;">HXCC</div>
<div class="c bl tb" style="left:678px;top:443px;width:37px;height:35px;font-size:10.5px;font-weight:700;background:#fff;"><span style="display:inline-block;transform:scaleX(0.804);transform-origin:center center">HXCC−S</span></div>
<div class="c bl tb" style="left:715px;top:443px;width:37px;height:35px;font-size:10.5px;font-weight:700;background:#fff;"><span style="display:inline-block;transform:scaleX(0.924);transform-origin:center center">HXCCH</span></div>
<div class="c bl tb" style="left:752px;top:443px;width:37px;height:35px;font-size:10.5px;font-weight:700;background:#fff;">HXCS</div>
<div class="c bl tb nr" style="left:789px;top:443px;width:37px;height:35px;font-size:10.5px;font-weight:700;background:#fff;">HXCR</div>
<div class="a" style="left:74px;top:478px;width:54px;height:118px;background:#fff;"></div>
<div class="a" style="left:128px;top:478px;width:1px;height:120px;background:#6e6e6e;"></div>
<div class="a" style="left:74px;top:596px;width:55px;height:2px;background:#231815;"></div>
<span class="t" style="top:498.45px;font-size:8.5px;line-height:8.5px;left:76px;transform:scaleX(0.706);transform-origin:left center;">（丸タイプ）</span>
<span class="t" style="top:506.55px;font-size:10.5px;line-height:10.5px;font-weight:700;color:#009fe8;left:79px;">HXCC</span>
<span class="t" style="top:516.05px;font-size:10.5px;line-height:10.5px;font-weight:700;color:#009fe8;left:79px;">HXCC−S</span>
<span class="t" style="top:525.75px;font-size:10.5px;line-height:10.5px;font-weight:700;color:#009fe8;left:79px;">HXCCH</span>
<span class="t" style="top:537.35px;font-size:8.5px;line-height:8.5px;left:76px;transform:scaleX(0.720);transform-origin:left center;">（正方形タイプ）</span>
<span class="t" style="top:545.45px;font-size:10.5px;line-height:10.5px;font-weight:700;color:#009fe8;left:79px;">HXCS</span>
<span class="t" style="top:556.85px;font-size:8.5px;line-height:8.5px;left:76px;transform:scaleX(0.720);transform-origin:left center;">（長方形タイプ）</span>
<span class="t" style="top:565.85px;font-size:10.5px;line-height:10.5px;font-weight:700;color:#009fe8;left:79px;">HXCR</span>
<div class="c tr" style="left:129px;top:478px;width:17px;height:15px;font-size:11px;font-weight:700;color:#009fe8;background:#fff;">8</div>
<div class="c dt" style="left:146px;top:478px;width:20px;height:15px;font-size:10px;"><span style="display:inline-block;transform:scaleX(0.890);transform-origin:center center">4</span></div>
<div class="c dt" style="left:166px;top:478px;width:20px;height:15px;font-size:10px;"><span style="display:inline-block;transform:scaleX(0.890);transform-origin:center center">6.4</span></div>
<div class="c dt" style="left:186px;top:478px;width:20px;height:15px;font-size:10px;"><span style="display:inline-block;transform:scaleX(0.890);transform-origin:center center">3.2</span></div>
<div class="c dt" style="left:206px;top:478px;width:20px;height:15px;font-size:10px;"><span style="display:inline-block;transform:scaleX(0.890);transform-origin:center center">5.5</span></div>
<div class="c dt" style="left:226px;top:478px;width:20px;height:15px;font-size:10px;"><span style="display:inline-block;transform:scaleX(0.890);transform-origin:center center">3</span></div>
<div class="c dt" style="left:246px;top:478px;width:19px;height:15px;font-size:10px;"><span style="display:inline-block;transform:scaleX(0.890);transform-origin:center center">0.6</span></div>
<div class="c dt" style="left:265px;top:478px;width:20px;height:15px;font-size:10px;"><span style="display:inline-block;transform:scaleX(0.890);transform-origin:center center">15</span></div>
<div class="c dt" style="left:285px;top:478px;width:20px;height:15px;font-size:10px;"><span style="display:inline-block;transform:scaleX(0.890);transform-origin:center center">8</span></div>
<div class="c dt" style="left:305px;top:478px;width:57px;height:15px;font-size:10px;"><span style="display:inline-block;transform:scaleX(0.890);transform-origin:center center">M2.5−8×1本</span></div>
<div class="c dt" style="left:362px;top:478px;width:56px;height:15px;font-size:10px;"><span style="display:inline-block;transform:scaleX(0.890);transform-origin:center center">M2.5−8×2本</span></div>
<div class="c dt" style="left:418px;top:478px;width:44px;height:15px;font-size:10px;"><span style="display:inline-block;transform:scaleX(0.890);transform-origin:center center">3.9{0.4}</span></div>
<div class="c dt" style="left:462px;top:478px;width:45px;height:15px;font-size:10px;"><span style="display:inline-block;transform:scaleX(0.890);transform-origin:center center">7.8{0.8}</span></div>
<div class="c dt" style="left:507px;top:478px;width:44px;height:15px;font-size:10px;"><span style="display:inline-block;transform:scaleX(0.890);transform-origin:center center">17.6{1.8}</span></div>
<div class="c dt" style="left:551px;top:478px;width:45px;height:15px;font-size:10px;"><span style="display:inline-block;transform:scaleX(0.771);transform-origin:center center">2200〜2500</span></div>
<div class="c dt tr" style="left:596px;top:478px;width:45px;height:15px;font-size:10px;"><span style="display:inline-block;transform:scaleX(0.771);transform-origin:center center">4000〜4300</span></div>
<div class="c dt" style="left:641px;top:478px;width:37px;height:15px;font-size:10px;justify-content:flex-end;padding-right:7px;"><span style="display:inline-block;transform:scaleX(0.900);transform-origin:right center">670</span></div>
<div class="c dt" style="left:678px;top:478px;width:37px;height:15px;font-size:10px;">−</div>
<div class="c dt" style="left:715px;top:478px;width:37px;height:15px;font-size:10px;justify-content:flex-end;padding-right:7px;"><span style="display:inline-block;transform:scaleX(0.900);transform-origin:right center">700</span></div>
<div class="c dt" style="left:752px;top:478px;width:37px;height:15px;font-size:10px;justify-content:flex-end;padding-right:7px;"><span style="display:inline-block;transform:scaleX(0.900);transform-origin:right center">730</span></div>
<div class="c dt nr" style="left:789px;top:478px;width:37px;height:15px;font-size:10px;justify-content:flex-end;padding-right:5.5px;"><span style="display:inline-block;transform:scaleX(0.900);transform-origin:right center">1,650</span></div>
<div class="c tr" style="left:129px;top:493px;width:17px;height:15px;font-size:11px;font-weight:700;color:#009fe8;background:#fff;">10</div>
<div class="c dt" style="left:146px;top:493px;width:20px;height:15px;font-size:10px;"><span style="display:inline-block;transform:scaleX(0.890);transform-origin:center center">5</span></div>
<div class="c dt" style="left:166px;top:493px;width:20px;height:15px;font-size:10px;"><span style="display:inline-block;transform:scaleX(0.890);transform-origin:center center">8</span></div>
<div class="c dt" style="left:186px;top:493px;width:20px;height:15px;font-size:10px;"><span style="display:inline-block;transform:scaleX(0.890);transform-origin:center center">4</span></div>
<div class="c dt" style="left:206px;top:493px;width:20px;height:15px;font-size:10px;"><span style="display:inline-block;transform:scaleX(0.890);transform-origin:center center">6.5</span></div>
<div class="c dt" style="left:226px;top:493px;width:20px;height:15px;font-size:10px;"><span style="display:inline-block;transform:scaleX(0.890);transform-origin:center center">3.5</span></div>
<div class="c dt" style="left:246px;top:493px;width:19px;height:15px;font-size:10px;"><span style="display:inline-block;transform:scaleX(0.890);transform-origin:center center">0.8</span></div>
<div class="c dt" style="left:265px;top:493px;width:20px;height:15px;font-size:10px;"><span style="display:inline-block;transform:scaleX(0.890);transform-origin:center center">20</span></div>
<div class="c dt" style="left:285px;top:493px;width:20px;height:15px;font-size:10px;"><span style="display:inline-block;transform:scaleX(0.890);transform-origin:center center">10</span></div>
<div class="c dt" style="left:305px;top:493px;width:57px;height:15px;font-size:10px;"><span style="display:inline-block;transform:scaleX(0.890);transform-origin:center center">M3−10×1本</span></div>
<div class="c dt" style="left:362px;top:493px;width:56px;height:15px;font-size:10px;"><span style="display:inline-block;transform:scaleX(0.890);transform-origin:center center">M3−10×2本</span></div>
<div class="c dt" style="left:418px;top:493px;width:44px;height:15px;font-size:10px;"><span style="display:inline-block;transform:scaleX(0.890);transform-origin:center center">5.8{0.6}</span></div>
<div class="c dt" style="left:462px;top:493px;width:45px;height:15px;font-size:10px;"><span style="display:inline-block;transform:scaleX(0.890);transform-origin:center center">19.6{2.0}</span></div>
<div class="c dt" style="left:507px;top:493px;width:44px;height:15px;font-size:10px;"><span style="display:inline-block;transform:scaleX(0.890);transform-origin:center center">39.2{4.0}</span></div>
<div class="c dt" style="left:551px;top:493px;width:45px;height:15px;font-size:10px;"><span style="display:inline-block;transform:scaleX(0.771);transform-origin:center center">2400〜2700</span></div>
<div class="c dt tr" style="left:596px;top:493px;width:45px;height:15px;font-size:10px;"><span style="display:inline-block;transform:scaleX(0.771);transform-origin:center center">4200〜4700</span></div>
<div class="c dt" style="left:641px;top:493px;width:37px;height:15px;font-size:10px;justify-content:flex-end;padding-right:7px;"><span style="display:inline-block;transform:scaleX(0.900);transform-origin:right center">670</span></div>
<div class="c dt" style="left:678px;top:493px;width:37px;height:15px;font-size:10px;justify-content:flex-end;padding-right:7px;"><span style="display:inline-block;transform:scaleX(0.900);transform-origin:right center">670</span></div>
<div class="c dt" style="left:715px;top:493px;width:37px;height:15px;font-size:10px;justify-content:flex-end;padding-right:7px;"><span style="display:inline-block;transform:scaleX(0.900);transform-origin:right center">700</span></div>
<div class="c dt" style="left:752px;top:493px;width:37px;height:15px;font-size:10px;justify-content:flex-end;padding-right:7px;"><span style="display:inline-block;transform:scaleX(0.900);transform-origin:right center">730</span></div>
<div class="c dt nr" style="left:789px;top:493px;width:37px;height:15px;font-size:10px;justify-content:flex-end;padding-right:5.5px;"><span style="display:inline-block;transform:scaleX(0.900);transform-origin:right center">1,650</span></div>
<div class="c tr" style="left:129px;top:508px;width:17px;height:15px;font-size:11px;font-weight:700;color:#009fe8;background:#fff;">12</div>
<div class="c dt" style="left:146px;top:508px;width:20px;height:15px;font-size:10px;"><span style="display:inline-block;transform:scaleX(0.890);transform-origin:center center">6</span></div>
<div class="c dt" style="left:166px;top:508px;width:20px;height:15px;font-size:10px;"><span style="display:inline-block;transform:scaleX(0.890);transform-origin:center center">9.6</span></div>
<div class="c dt" style="left:186px;top:508px;width:20px;height:15px;font-size:10px;"><span style="display:inline-block;transform:scaleX(0.890);transform-origin:center center">4.8</span></div>
<div class="c dt" style="left:206px;top:508px;width:20px;height:15px;font-size:10px;"><span style="display:inline-block;transform:scaleX(0.890);transform-origin:center center">6.5</span></div>
<div class="c dt" style="left:226px;top:508px;width:20px;height:15px;font-size:10px;"><span style="display:inline-block;transform:scaleX(0.890);transform-origin:center center">3.5</span></div>
<div class="c dt" style="left:246px;top:508px;width:19px;height:15px;font-size:10px;"><span style="display:inline-block;transform:scaleX(0.890);transform-origin:center center">1.0</span></div>
<div class="c dt" style="left:265px;top:508px;width:20px;height:15px;font-size:10px;"><span style="display:inline-block;transform:scaleX(0.890);transform-origin:center center">25</span></div>
<div class="c dt" style="left:285px;top:508px;width:20px;height:15px;font-size:10px;"><span style="display:inline-block;transform:scaleX(0.890);transform-origin:center center">12</span></div>
<div class="c dt" style="left:305px;top:508px;width:57px;height:15px;font-size:10px;"><span style="display:inline-block;transform:scaleX(0.890);transform-origin:center center">M3−10×1本</span></div>
<div class="c dt" style="left:362px;top:508px;width:56px;height:15px;font-size:10px;"><span style="display:inline-block;transform:scaleX(0.890);transform-origin:center center">M3−10×2本</span></div>
<div class="c dt" style="left:418px;top:508px;width:44px;height:15px;font-size:10px;"><span style="display:inline-block;transform:scaleX(0.890);transform-origin:center center">15.7{1.6}</span></div>
<div class="c dt" style="left:462px;top:508px;width:45px;height:15px;font-size:10px;"><span style="display:inline-block;transform:scaleX(0.890);transform-origin:center center">29.4{3.0}</span></div>
<div class="c dt" style="left:507px;top:508px;width:44px;height:15px;font-size:10px;"><span style="display:inline-block;transform:scaleX(0.890);transform-origin:center center">68.6{7.0}</span></div>
<div class="c dt" style="left:551px;top:508px;width:45px;height:15px;font-size:10px;"><span style="display:inline-block;transform:scaleX(0.771);transform-origin:center center">3800〜4100</span></div>
<div class="c dt tr" style="left:596px;top:508px;width:45px;height:15px;font-size:10px;"><span style="display:inline-block;transform:scaleX(0.771);transform-origin:center center">4200〜4700</span></div>
<div class="c dt" style="left:641px;top:508px;width:37px;height:15px;font-size:10px;justify-content:flex-end;padding-right:7px;"><span style="display:inline-block;transform:scaleX(0.900);transform-origin:right center">680</span></div>
<div class="c dt" style="left:678px;top:508px;width:37px;height:15px;font-size:10px;justify-content:flex-end;padding-right:7px;"><span style="display:inline-block;transform:scaleX(0.900);transform-origin:right center">680</span></div>
<div class="c dt" style="left:715px;top:508px;width:37px;height:15px;font-size:10px;justify-content:flex-end;padding-right:7px;"><span style="display:inline-block;transform:scaleX(0.900);transform-origin:right center">740</span></div>
<div class="c dt" style="left:752px;top:508px;width:37px;height:15px;font-size:10px;justify-content:flex-end;padding-right:7px;"><span style="display:inline-block;transform:scaleX(0.900);transform-origin:right center">760</span></div>
<div class="c dt nr" style="left:789px;top:508px;width:37px;height:15px;font-size:10px;justify-content:flex-end;padding-right:5.5px;"><span style="display:inline-block;transform:scaleX(0.900);transform-origin:right center">1,680</span></div>
<div class="c tr" style="left:129px;top:523px;width:17px;height:15px;font-size:11px;font-weight:700;color:#009fe8;background:#fff;">15</div>
<div class="c dt" style="left:146px;top:523px;width:20px;height:15px;font-size:10px;"><span style="display:inline-block;transform:scaleX(0.890);transform-origin:center center">6</span></div>
<div class="c dt" style="left:166px;top:523px;width:20px;height:15px;font-size:10px;"><span style="display:inline-block;transform:scaleX(0.873);transform-origin:center center">12.6</span></div>
<div class="c dt" style="left:186px;top:523px;width:20px;height:15px;font-size:10px;"><span style="display:inline-block;transform:scaleX(0.890);transform-origin:center center">4.8</span></div>
<div class="c dt" style="left:206px;top:523px;width:20px;height:15px;font-size:10px;"><span style="display:inline-block;transform:scaleX(0.890);transform-origin:center center">9</span></div>
<div class="c dt" style="left:226px;top:523px;width:20px;height:15px;font-size:10px;"><span style="display:inline-block;transform:scaleX(0.890);transform-origin:center center">4.8</span></div>
<div class="c dt" style="left:246px;top:523px;width:19px;height:15px;font-size:10px;"><span style="display:inline-block;transform:scaleX(0.890);transform-origin:center center">1.0</span></div>
<div class="c dt" style="left:265px;top:523px;width:20px;height:15px;font-size:10px;"><span style="display:inline-block;transform:scaleX(0.890);transform-origin:center center">30</span></div>
<div class="c dt" style="left:285px;top:523px;width:20px;height:15px;font-size:10px;"><span style="display:inline-block;transform:scaleX(0.890);transform-origin:center center">15</span></div>
<div class="c dt" style="left:305px;top:523px;width:57px;height:15px;font-size:10px;"><span style="display:inline-block;transform:scaleX(0.890);transform-origin:center center">M4−12×1本</span></div>
<div class="c dt" style="left:362px;top:523px;width:56px;height:15px;font-size:10px;"><span style="display:inline-block;transform:scaleX(0.890);transform-origin:center center">M4−12×2本</span></div>
<div class="c dt" style="left:418px;top:523px;width:44px;height:15px;font-size:10px;"><span style="display:inline-block;transform:scaleX(0.890);transform-origin:center center">24.5{2.5}</span></div>
<div class="c dt" style="left:462px;top:523px;width:45px;height:15px;font-size:10px;"><span style="display:inline-block;transform:scaleX(0.890);transform-origin:center center">49.0{5.0}</span></div>
<div class="c dt" style="left:507px;top:523px;width:44px;height:15px;font-size:10px;"><span style="display:inline-block;transform:scaleX(0.890);transform-origin:center center">98.1{10.0}</span></div>
<div class="c dt" style="left:551px;top:523px;width:45px;height:15px;font-size:10px;"><span style="display:inline-block;transform:scaleX(0.771);transform-origin:center center">3800〜4100</span></div>
<div class="c dt tr" style="left:596px;top:523px;width:45px;height:15px;font-size:10px;"><span style="display:inline-block;transform:scaleX(0.771);transform-origin:center center">4200〜4700</span></div>
<div class="c dt" style="left:641px;top:523px;width:37px;height:15px;font-size:10px;justify-content:flex-end;padding-right:7px;"><span style="display:inline-block;transform:scaleX(0.900);transform-origin:right center">690</span></div>
<div class="c dt" style="left:678px;top:523px;width:37px;height:15px;font-size:10px;justify-content:flex-end;padding-right:7px;"><span style="display:inline-block;transform:scaleX(0.900);transform-origin:right center">690</span></div>
<div class="c dt" style="left:715px;top:523px;width:37px;height:15px;font-size:10px;justify-content:flex-end;padding-right:7px;"><span style="display:inline-block;transform:scaleX(0.900);transform-origin:right center">900</span></div>
<div class="c dt" style="left:752px;top:523px;width:37px;height:15px;font-size:10px;justify-content:flex-end;padding-right:7px;"><span style="display:inline-block;transform:scaleX(0.900);transform-origin:right center">770</span></div>
<div class="c dt nr" style="left:789px;top:523px;width:37px;height:15px;font-size:10px;justify-content:flex-end;padding-right:5.5px;"><span style="display:inline-block;transform:scaleX(0.900);transform-origin:right center">1,690</span></div>
<div class="c tr" style="left:129px;top:538px;width:17px;height:15px;font-size:11px;font-weight:700;color:#009fe8;background:#fff;">20</div>
<div class="c dt" style="left:146px;top:538px;width:20px;height:15px;font-size:10px;"><span style="display:inline-block;transform:scaleX(0.890);transform-origin:center center">7</span></div>
<div class="c dt" style="left:166px;top:538px;width:20px;height:15px;font-size:10px;"><span style="display:inline-block;transform:scaleX(0.873);transform-origin:center center">17.2</span></div>
<div class="c dt" style="left:186px;top:538px;width:20px;height:15px;font-size:10px;"><span style="display:inline-block;transform:scaleX(0.890);transform-origin:center center">5.6</span></div>
<div class="c dt" style="left:206px;top:538px;width:20px;height:15px;font-size:10px;"><span style="display:inline-block;transform:scaleX(0.890);transform-origin:center center">11</span></div>
<div class="c dt" style="left:226px;top:538px;width:20px;height:15px;font-size:10px;"><span style="display:inline-block;transform:scaleX(0.890);transform-origin:center center">5.8</span></div>
<div class="c dt" style="left:246px;top:538px;width:19px;height:15px;font-size:10px;"><span style="display:inline-block;transform:scaleX(0.890);transform-origin:center center">1.2</span></div>
<div class="c dt" style="left:265px;top:538px;width:20px;height:15px;font-size:10px;"><span style="display:inline-block;transform:scaleX(0.890);transform-origin:center center">40</span></div>
<div class="c dt" style="left:285px;top:538px;width:20px;height:15px;font-size:10px;"><span style="display:inline-block;transform:scaleX(0.890);transform-origin:center center">20</span></div>
<div class="c dt" style="left:305px;top:538px;width:57px;height:15px;font-size:10px;"><span style="display:inline-block;transform:scaleX(0.890);transform-origin:center center">M5−15×1本</span></div>
<div class="c dt" style="left:362px;top:538px;width:56px;height:15px;font-size:10px;"><span style="display:inline-block;transform:scaleX(0.890);transform-origin:center center">M5−15×2本</span></div>
<div class="c dt" style="left:418px;top:538px;width:44px;height:15px;font-size:10px;"><span style="display:inline-block;transform:scaleX(0.890);transform-origin:center center">58.8{6.0}</span></div>
<div class="c dt" style="left:462px;top:538px;width:45px;height:15px;font-size:10px;"><span style="display:inline-block;transform:scaleX(0.821);transform-origin:center center">127.5{13.0}</span></div>
<div class="c dt" style="left:507px;top:538px;width:44px;height:15px;font-size:10px;"><span style="display:inline-block;transform:scaleX(0.801);transform-origin:center center">230.5{23.5}</span></div>
<div class="c dt" style="left:551px;top:538px;width:45px;height:15px;font-size:10px;"><span style="display:inline-block;transform:scaleX(0.771);transform-origin:center center">4200〜4500</span></div>
<div class="c dt tr" style="left:596px;top:538px;width:45px;height:15px;font-size:10px;"><span style="display:inline-block;transform:scaleX(0.771);transform-origin:center center">4200〜4700</span></div>
<div class="c dt" style="left:641px;top:538px;width:37px;height:15px;font-size:10px;justify-content:flex-end;padding-right:7px;"><span style="display:inline-block;transform:scaleX(0.900);transform-origin:right center">1,060</span></div>
<div class="c dt" style="left:678px;top:538px;width:37px;height:15px;font-size:10px;justify-content:flex-end;padding-right:7px;"><span style="display:inline-block;transform:scaleX(0.900);transform-origin:right center">1,060</span></div>
<div class="c dt" style="left:715px;top:538px;width:37px;height:15px;font-size:10px;justify-content:flex-end;padding-right:7px;"><span style="display:inline-block;transform:scaleX(0.900);transform-origin:right center">1,270</span></div>
<div class="c dt" style="left:752px;top:538px;width:37px;height:15px;font-size:10px;justify-content:flex-end;padding-right:7px;"><span style="display:inline-block;transform:scaleX(0.900);transform-origin:right center">1,160</span></div>
<div class="c dt nr" style="left:789px;top:538px;width:37px;height:15px;font-size:10px;justify-content:flex-end;padding-right:5.5px;"><span style="display:inline-block;transform:scaleX(0.900);transform-origin:right center">2,880</span></div>
<div class="c tr" style="left:129px;top:553px;width:17px;height:15px;font-size:11px;font-weight:700;color:#009fe8;background:#fff;">25</div>
<div class="c dt" style="left:146px;top:553px;width:20px;height:15px;font-size:10px;"><span style="display:inline-block;transform:scaleX(0.890);transform-origin:center center">8</span></div>
<div class="c dt" style="left:166px;top:553px;width:20px;height:15px;font-size:10px;"><span style="display:inline-block;transform:scaleX(0.873);transform-origin:center center">21.2</span></div>
<div class="c dt" style="left:186px;top:553px;width:20px;height:15px;font-size:10px;"><span style="display:inline-block;transform:scaleX(0.890);transform-origin:center center">6.2</span></div>
<div class="c dt" style="left:206px;top:553px;width:20px;height:15px;font-size:10px;"><span style="display:inline-block;transform:scaleX(0.890);transform-origin:center center">13</span></div>
<div class="c dt" style="left:226px;top:553px;width:20px;height:15px;font-size:10px;"><span style="display:inline-block;transform:scaleX(0.890);transform-origin:center center">7</span></div>
<div class="c dt" style="left:246px;top:553px;width:19px;height:15px;font-size:10px;"><span style="display:inline-block;transform:scaleX(0.890);transform-origin:center center">1.6</span></div>
<div class="c dt" style="left:265px;top:553px;width:20px;height:15px;font-size:10px;"><span style="display:inline-block;transform:scaleX(0.890);transform-origin:center center">50</span></div>
<div class="c dt" style="left:285px;top:553px;width:20px;height:15px;font-size:10px;"><span style="display:inline-block;transform:scaleX(0.890);transform-origin:center center">30</span></div>
<div class="c dt" style="left:305px;top:553px;width:57px;height:15px;font-size:10px;"><span style="display:inline-block;transform:scaleX(0.890);transform-origin:center center">M6−16×1本</span></div>
<div class="c dt" style="left:362px;top:553px;width:56px;height:15px;font-size:10px;"><span style="display:inline-block;transform:scaleX(0.890);transform-origin:center center">M6−16×2本</span></div>
<div class="c dt" style="left:418px;top:553px;width:44px;height:15px;font-size:10px;"><span style="display:inline-block;transform:scaleX(0.801);transform-origin:center center">152.0{15.5}</span></div>
<div class="c dt" style="left:462px;top:553px;width:45px;height:15px;font-size:10px;"><span style="display:inline-block;transform:scaleX(0.821);transform-origin:center center">181.4{18.5}</span></div>
<div class="c dt" style="left:507px;top:553px;width:44px;height:15px;font-size:10px;"><span style="display:inline-block;transform:scaleX(0.801);transform-origin:center center">294.2{30.0}</span></div>
<div class="c dt" style="left:551px;top:553px;width:45px;height:15px;font-size:10px;"><span style="display:inline-block;transform:scaleX(0.771);transform-origin:center center">4200〜4500</span></div>
<div class="c dt tr" style="left:596px;top:553px;width:45px;height:15px;font-size:10px;"><span style="display:inline-block;transform:scaleX(0.771);transform-origin:center center">4200〜4700</span></div>
<div class="c dt" style="left:641px;top:553px;width:37px;height:15px;font-size:10px;justify-content:flex-end;padding-right:7px;"><span style="display:inline-block;transform:scaleX(0.900);transform-origin:right center">1,660</span></div>
<div class="c dt" style="left:678px;top:553px;width:37px;height:15px;font-size:10px;justify-content:flex-end;padding-right:7px;"><span style="display:inline-block;transform:scaleX(0.900);transform-origin:right center">1,660</span></div>
<div class="c dt" style="left:715px;top:553px;width:37px;height:15px;font-size:10px;justify-content:flex-end;padding-right:7px;"><span style="display:inline-block;transform:scaleX(0.900);transform-origin:right center">1,780</span></div>
<div class="c dt" style="left:752px;top:553px;width:37px;height:15px;font-size:10px;justify-content:flex-end;padding-right:7px;"><span style="display:inline-block;transform:scaleX(0.900);transform-origin:right center">1,790</span></div>
<div class="c dt nr" style="left:789px;top:553px;width:37px;height:15px;font-size:10px;justify-content:flex-end;padding-right:5.5px;"><span style="display:inline-block;transform:scaleX(0.900);transform-origin:right center">4,900</span></div>
<div class="c tr" style="left:129px;top:568px;width:17px;height:15px;font-size:11px;font-weight:700;color:#e4007f;background:#fff;">28</div>
<div class="c dt" style="left:146px;top:568px;width:20px;height:15px;font-size:10px;"><span style="display:inline-block;transform:scaleX(0.890);transform-origin:center center">8</span></div>
<div class="c dt" style="left:166px;top:568px;width:20px;height:15px;font-size:10px;"><span style="display:inline-block;transform:scaleX(0.873);transform-origin:center center">24.2</span></div>
<div class="c dt" style="left:186px;top:568px;width:20px;height:15px;font-size:10px;"><span style="display:inline-block;transform:scaleX(0.890);transform-origin:center center">6.2</span></div>
<div class="c dt" style="left:206px;top:568px;width:20px;height:15px;font-size:10px;"><span style="display:inline-block;transform:scaleX(0.890);transform-origin:center center">13</span></div>
<div class="c dt" style="left:226px;top:568px;width:20px;height:15px;font-size:10px;"><span style="display:inline-block;transform:scaleX(0.890);transform-origin:center center">7</span></div>
<div class="c dt" style="left:246px;top:568px;width:19px;height:15px;font-size:10px;"><span style="display:inline-block;transform:scaleX(0.890);transform-origin:center center">1.6</span></div>
<div class="c dt" style="left:265px;top:568px;width:20px;height:15px;font-size:10px;"><span style="display:inline-block;transform:scaleX(0.890);transform-origin:center center">50</span></div>
<div class="c dt" style="left:285px;top:568px;width:20px;height:15px;font-size:10px;"><span style="display:inline-block;transform:scaleX(0.890);transform-origin:center center">30</span></div>
<div class="c dt" style="left:305px;top:568px;width:57px;height:15px;font-size:10px;"><span style="display:inline-block;transform:scaleX(0.890);transform-origin:center center">M6−16×1本</span></div>
<div class="c dt" style="left:362px;top:568px;width:56px;height:15px;font-size:10px;"><span style="display:inline-block;transform:scaleX(0.890);transform-origin:center center">M6−16×2本</span></div>
<div class="c dt" style="left:418px;top:568px;width:44px;height:15px;font-size:10px;"><span style="display:inline-block;transform:scaleX(0.801);transform-origin:center center">199.9{20.3}</span></div>
<div class="c dt" style="left:462px;top:568px;width:45px;height:15px;font-size:10px;"><span style="display:inline-block;transform:scaleX(0.821);transform-origin:center center">208.9{21.3}</span></div>
<div class="c dt" style="left:507px;top:568px;width:44px;height:15px;font-size:10px;"><span style="display:inline-block;transform:scaleX(0.801);transform-origin:center center">327.1{33.3}</span></div>
<div class="c dt" style="left:551px;top:568px;width:45px;height:15px;font-size:10px;"><span style="display:inline-block;transform:scaleX(0.771);transform-origin:center center">4200〜4500</span></div>
<div class="c dt tr" style="left:596px;top:568px;width:45px;height:15px;font-size:10px;"><span style="display:inline-block;transform:scaleX(0.771);transform-origin:center center">4200〜4700</span></div>
<div class="c dt" style="left:641px;top:568px;width:37px;height:15px;font-size:10px;justify-content:flex-end;padding-right:7px;"><span style="display:inline-block;transform:scaleX(0.900);transform-origin:right center">2,480</span></div>
<div class="c dt" style="left:678px;top:568px;width:37px;height:15px;font-size:10px;">−</div>
<div class="c dt" style="left:715px;top:568px;width:37px;height:15px;font-size:10px;justify-content:flex-end;padding-right:7px;"><span style="display:inline-block;transform:scaleX(0.900);transform-origin:right center">2,670</span></div>
<div class="c dt" style="left:752px;top:568px;width:37px;height:15px;font-size:10px;justify-content:flex-end;padding-right:7px;"><span style="display:inline-block;transform:scaleX(0.900);transform-origin:right center">2,690</span></div>
<div class="c dt nr" style="left:789px;top:568px;width:37px;height:15px;font-size:10px;justify-content:flex-end;padding-right:5.5px;"><span style="display:inline-block;transform:scaleX(0.900);transform-origin:right center">4,900</span></div>
<div class="c tr tb" style="left:129px;top:583px;width:17px;height:15px;font-size:11px;font-weight:700;color:#e4007f;background:#fff;">30</div>
<div class="c dt tb" style="left:146px;top:583px;width:20px;height:15px;font-size:10px;"><span style="display:inline-block;transform:scaleX(0.890);transform-origin:center center">8</span></div>
<div class="c dt tb" style="left:166px;top:583px;width:20px;height:15px;font-size:10px;"><span style="display:inline-block;transform:scaleX(0.873);transform-origin:center center">26.2</span></div>
<div class="c dt tb" style="left:186px;top:583px;width:20px;height:15px;font-size:10px;"><span style="display:inline-block;transform:scaleX(0.890);transform-origin:center center">6.2</span></div>
<div class="c dt tb" style="left:206px;top:583px;width:20px;height:15px;font-size:10px;"><span style="display:inline-block;transform:scaleX(0.890);transform-origin:center center">13</span></div>
<div class="c dt tb" style="left:226px;top:583px;width:20px;height:15px;font-size:10px;"><span style="display:inline-block;transform:scaleX(0.890);transform-origin:center center">7</span></div>
<div class="c dt tb" style="left:246px;top:583px;width:19px;height:15px;font-size:10px;"><span style="display:inline-block;transform:scaleX(0.890);transform-origin:center center">1.6</span></div>
<div class="c dt tb" style="left:265px;top:583px;width:20px;height:15px;font-size:10px;"><span style="display:inline-block;transform:scaleX(0.890);transform-origin:center center">50</span></div>
<div class="c dt tb" style="left:285px;top:583px;width:20px;height:15px;font-size:10px;"><span style="display:inline-block;transform:scaleX(0.890);transform-origin:center center">30</span></div>
<div class="c dt tb" style="left:305px;top:583px;width:57px;height:15px;font-size:10px;"><span style="display:inline-block;transform:scaleX(0.890);transform-origin:center center">M6−16×1本</span></div>
<div class="c dt tb" style="left:362px;top:583px;width:56px;height:15px;font-size:10px;"><span style="display:inline-block;transform:scaleX(0.890);transform-origin:center center">M6−16×2本</span></div>
<div class="c dt tb" style="left:418px;top:583px;width:44px;height:15px;font-size:10px;"><span style="display:inline-block;transform:scaleX(0.801);transform-origin:center center">218.0{22.2}</span></div>
<div class="c dt tb" style="left:462px;top:583px;width:45px;height:15px;font-size:10px;"><span style="display:inline-block;transform:scaleX(0.821);transform-origin:center center">236.2{24.1}</span></div>
<div class="c dt tb" style="left:507px;top:583px;width:44px;height:15px;font-size:10px;"><span style="display:inline-block;transform:scaleX(0.801);transform-origin:center center">363.4{37.0}</span></div>
<div class="c dt tb" style="left:551px;top:583px;width:45px;height:15px;font-size:10px;"><span style="display:inline-block;transform:scaleX(0.771);transform-origin:center center">4200〜4500</span></div>
<div class="c dt tb tr" style="left:596px;top:583px;width:45px;height:15px;font-size:10px;"><span style="display:inline-block;transform:scaleX(0.771);transform-origin:center center">4200〜4700</span></div>
<div class="c dt tb" style="left:641px;top:583px;width:37px;height:15px;font-size:10px;justify-content:flex-end;padding-right:7px;"><span style="display:inline-block;transform:scaleX(0.900);transform-origin:right center">2,480</span></div>
<div class="c dt tb" style="left:678px;top:583px;width:37px;height:15px;font-size:10px;">−</div>
<div class="c dt tb" style="left:715px;top:583px;width:37px;height:15px;font-size:10px;justify-content:flex-end;padding-right:7px;"><span style="display:inline-block;transform:scaleX(0.900);transform-origin:right center">2,670</span></div>
<div class="c dt tb" style="left:752px;top:583px;width:37px;height:15px;font-size:10px;justify-content:flex-end;padding-right:7px;"><span style="display:inline-block;transform:scaleX(0.900);transform-origin:right center">2,690</span></div>
<div class="c dt tb nr" style="left:789px;top:583px;width:37px;height:15px;font-size:10px;justify-content:flex-end;padding-right:5.5px;"><span style="display:inline-block;transform:scaleX(0.900);transform-origin:right center">4,900</span></div>
<svg style="left:659px;top:599.5px" width="10" height="10" viewBox="0 0 12 12"><circle cx="6" cy="6" r="5.2" fill="#fff" stroke="#e4007f" stroke-width="0.9"/><circle cx="6" cy="4.6" r="2.3" fill="#e4007f"/><polygon points="4.3,6.2 7.7,6.2 6,9.4" fill="#e4007f"/><rect x="5.3" y="9.2" width="1.4" height="0.9" fill="#e4007f"/></svg>
<span class="t" style="top:599.25px;font-size:10.5px;line-height:10.5px;left:670.5px;transform:scaleX(0.873);transform-origin:left center;">吸着力・表面磁束密度は参考値です。</span>
<svg style="left:529px;top:611.5px" width="10" height="10" viewBox="0 0 12 12"><circle cx="6" cy="6" r="5.2" fill="#fff" stroke="#e4007f" stroke-width="0.9"/><circle cx="6" cy="4.6" r="2.3" fill="#e4007f"/><polygon points="4.3,6.2 7.7,6.2 6,9.4" fill="#e4007f"/><rect x="5.3" y="9.2" width="1.4" height="0.9" fill="#e4007f"/></svg>
<span class="t" style="top:611.25px;font-size:10.5px;line-height:10.5px;left:540.5px;transform:scaleX(0.757);transform-origin:left center;">商品特性上、多少のカケがある場合がございますが磁力に影響はございません。</span>
<div class="a" style="left:74px;top:688px;width:752px;height:291px;border:1px solid #767676;box-sizing:border-box;"></div>
<div class="a" style="left:75px;top:689px;width:148px;height:289px;background:radial-gradient(ellipse at 50% 45%,#fafaff 0%,#f3f3fb 45%,#ebebf7 100%);"></div>
<div class="a" style="left:223px;top:689px;width:1px;height:289px;background:#767676;"></div>
<svg style="left:84px;top:698.5px" width="12" height="12"><rect x="0.3" y="0.3" width="11.2" height="11.2" fill="#231815"/></svg>
<span class="t" style="top:698.35px;font-size:12.5px;line-height:12.5px;font-weight:700;left:96.2px;transform:scaleX(0.893);transform-origin:left center;">長円ホルダ付タイプ</span>
<svg style="left:76px;top:715px" width="147" height="262" viewBox="76 715 147 262"><defs><linearGradient id="gsh2" x1="0" y1="0" x2="1" y2="0"><stop offset="0" stop-color="#8f887f"/><stop offset="0.45" stop-color="#e6e2dc"/><stop offset="1" stop-color="#857e75"/></linearGradient><linearGradient id="gmg" x1="0" y1="0" x2="1" y2="1"><stop offset="0" stop-color="#e3e6e8"/><stop offset="1" stop-color="#bcc4ca"/></linearGradient></defs><g transform="translate(139.2,763.6) scale(1,0.65) rotate(-31)"><polygon points="-32.4,0 32.4,0 17.74,24.4 -47.06,24.4" fill="#9e9388" stroke="#9e9388" stroke-width="33.5" stroke-linejoin="round"/><line x1="-32.4" y1="0" x2="32.4" y2="0" stroke="#d2cac1" stroke-width="33.5" stroke-linecap="round"/><line x1="-32.4" y1="0" x2="32.4" y2="0" stroke="#b3a99f" stroke-width="31.9" stroke-linecap="round"/><circle cx="-32.4" cy="0" r="12.2" fill="#686562" stroke="#d6cfc7" stroke-width="1"/><path d="M-43.4,4 A12,12 0 0 0 -21.4,4 A14,9 0 0 0 -43.4,4 Z" fill="#a3a09c"/><circle cx="32.4" cy="0" r="12.2" fill="#686562" stroke="#d6cfc7" stroke-width="1"/><path d="M21.4,4 A12,12 0 0 0 43.4,4 A14,9 0 0 0 21.4,4 Z" fill="#a3a09c"/><circle cx="0" cy="0" r="12.8" fill="#8a8379" /><circle cx="0" cy="0" r="11" fill="url(#gmg)"/></g><g transform="translate(166.8,816.4) scale(1,0.65) rotate(-33.6)"><polygon points="-31.3,0 31.3,0 22.45,13.33 -40.15,13.33" fill="#9c9084" stroke="#9c9084" stroke-width="40" stroke-linejoin="round"/><line x1="-31.3" y1="0" x2="31.3" y2="0" stroke="#efe9e1" stroke-width="40" stroke-linecap="round"/><line x1="-31.3" y1="0" x2="31.3" y2="0" stroke="#cfc4b8" stroke-width="38.4" stroke-linecap="round"/><circle cx="-31.3" cy="0" r="4.3" fill="#8b847a" stroke="#bdb5aa" stroke-width="1.2"/><circle cx="31.3" cy="0" r="4.3" fill="#8b847a" stroke="#bdb5aa" stroke-width="1.2"/><circle cx="0" cy="0" r="17.5" fill="#9a938a"/><circle cx="0" cy="-0.5" r="16.3" fill="url(#gmg)"/></g><rect x="160.3" y="871.4" width="6.8" height="18" rx="1.5" fill="url(#gsh2)"/><path d="M155.1,870.4 Q158.7,875.9 160.3,876.9 L167.1,876.9 Q168.7,875.9 172.3,870.4 Z" fill="#a29b92"/><ellipse cx="163.7" cy="870.4" rx="8.6" ry="5" fill="#ddd8d1" stroke="#8f887f" stroke-width="0.5"/><ellipse cx="163.7" cy="870.4" rx="2.8" ry="1.8" fill="#6f6961"/><rect x="107.1" y="894.4" width="6.8" height="17" rx="1.5" fill="url(#gsh2)"/><path d="M101.9,893.4 Q105.5,898.9 107.1,899.9 L113.9,899.9 Q115.5,898.9 119.1,893.4 Z" fill="#a29b92"/><ellipse cx="110.5" cy="893.4" rx="8.6" ry="5" fill="#ddd8d1" stroke="#8f887f" stroke-width="0.5"/><ellipse cx="110.5" cy="893.4" rx="2.8" ry="1.8" fill="#6f6961"/><g transform="translate(153.3,920) scale(1,0.65) rotate(-33.2)"><polygon points="-33.7,0 33.7,0 24.85,13.52 -42.55,13.52" fill="#a09386" stroke="#a09386" stroke-width="35.3" stroke-linejoin="round"/><line x1="-33.7" y1="0" x2="33.7" y2="0" stroke="#efe9e1" stroke-width="35.3" stroke-linecap="round"/><line x1="-33.7" y1="0" x2="33.7" y2="0" stroke="#d3c7b8" stroke-width="33.699999999999996" stroke-linecap="round"/><circle cx="-33.7" cy="0" r="9.5" fill="#b9b0a5" stroke="#ece6de" stroke-width="0.8"/><circle cx="-33.7" cy="1" r="4.4" fill="#fbfafa"/><circle cx="33.7" cy="0" r="9.5" fill="#b9b0a5" stroke="#ece6de" stroke-width="0.8"/><circle cx="33.7" cy="1" r="4.4" fill="#fbfafa"/><circle cx="0" cy="0" r="17.5" fill="#9a938a"/><circle cx="0" cy="-0.5" r="16.3" fill="url(#gmg)"/></g></svg>
<svg style="left:180.4px;top:960.2px" width="38" height="15" viewBox="0 0 38 15" font-family="'Liberation Sans',sans-serif" font-weight="700" fill="#fff"><rect width="37.7" height="14.6" fill="#22a73b"/><text x="2.6" y="11.8" font-size="12.2" textLength="17.5" lengthAdjust="spacingAndGlyphs">RoHS</text><text x="21.6" y="12.9" font-size="16" textLength="13.5" lengthAdjust="spacingAndGlyphs">10</text></svg>
<div class="a" style="left:232px;top:693px;width:455px;height:2px;z-index:2;background:linear-gradient(#231815 50%,#6a6361 50%);"></div>
<div class="c hd tr d3" style="left:232px;top:694px;width:179px;height:15px;font-size:10.5px;">Type</div>
<div class="c hd tr" style="left:411px;top:694px;width:99px;height:15px;font-size:10px;font-weight:400;">①</div>
<div class="c hd" style="left:510px;top:694px;width:98px;height:15px;font-size:10px;font-weight:400;">②</div>
<div class="c hd" style="left:608px;top:694px;width:50px;height:15px;font-size:10px;font-weight:400;">③</div>
<div class="c hd tb nr" style="left:658px;top:694px;width:29px;height:30px;font-size:9.5px;line-height:11.5px;"><span>耐熱<br>温度</span></div>
<div class="c hd tb" style="left:232px;top:709px;width:59px;height:15px;font-size:9px;"><span style="display:inline-block;transform:scaleX(0.889);transform-origin:center center">ザグリタイプ</span></div>
<div class="c hd tb" style="left:291px;top:709px;width:60px;height:15px;font-size:9px;"><span style="display:inline-block;transform:scaleX(0.889);transform-origin:center center">タップタイプ</span></div>
<div class="c hd tb tr" style="left:351px;top:709px;width:60px;height:15px;font-size:9px;"><span style="display:inline-block;transform:scaleX(0.841);transform-origin:center center">皿ボルトタイプ</span></div>
<div class="c hd tb" style="left:411px;top:709px;width:49px;height:15px;font-size:9.5px;"><span><span class="ms">M</span>材質</span></div>
<div class="c hd tb tr" style="left:460px;top:709px;width:50px;height:15px;font-size:9.5px;"><span><span class="ms">S</span>表面処理</span></div>
<div class="c hd tb" style="left:510px;top:709px;width:49px;height:15px;font-size:9.5px;"><span><span class="ms">M</span>材質</span></div>
<div class="c hd tb" style="left:559px;top:709px;width:49px;height:15px;font-size:9.5px;"><span><span class="ms">S</span>表面処理</span></div>
<div class="c hd tb" style="left:608px;top:709px;width:50px;height:15px;font-size:9.5px;"><span><span class="ms">M</span>材質</span></div>
<div class="c bl d3" style="left:232px;top:724px;width:59px;height:15px;font-size:12.5px;font-weight:700;justify-content:flex-start;padding-left:2.5px;">HXUKZ</div>
<div class="c bl d3" style="left:291px;top:724px;width:60px;height:15px;font-size:12.5px;font-weight:700;justify-content:flex-start;padding-left:2.5px;">HXUKM</div>
<div class="c  tr" style="left:351px;top:724px;width:60px;height:15px;font-size:11px;">−</div>
<div class="c bl d3" style="left:232px;top:739px;width:59px;height:15px;font-size:12.5px;font-weight:700;justify-content:flex-start;padding-left:2.5px;">HXUKZN</div>
<div class="c bl d3" style="left:291px;top:739px;width:60px;height:15px;font-size:12.5px;font-weight:700;justify-content:flex-start;padding-left:2.5px;">HXUKMN</div>
<div class="c  tr" style="left:351px;top:739px;width:60px;height:15px;font-size:11px;">−</div>
<div class="c  tb" style="left:232px;top:754px;width:59px;height:15px;font-size:11px;">−</div>
<div class="c  tb" style="left:291px;top:754px;width:60px;height:15px;font-size:11px;">−</div>
<div class="c bl tb tr d3" style="left:351px;top:754px;width:60px;height:15px;font-size:12.5px;font-weight:700;justify-content:flex-start;padding-left:2.5px;">HXUKSN</div>
<div class="c" style="left:411px;top:724px;width:49px;height:30px;font-size:10px;"><span style="display:inline-block;transform:scaleX(0.860);transform-origin:center center">鉄系焼結材</span></div>
<div class="c tb" style="left:411px;top:754px;width:49px;height:15px;font-size:10.5px;"><span style="display:inline-block;transform:scaleX(0.819);transform-origin:center center">SS400相当</span></div>
<div class="c tb tr" style="left:460px;top:724px;width:50px;height:45px;font-size:9px;"><span style="display:inline-block;transform:scaleX(0.511);transform-origin:center center">無電解ニッケルメッキ</span></div>
<div class="c" style="left:510px;top:724px;width:49px;height:15px;font-size:10px;"><span style="display:inline-block;transform:scaleX(0.750);transform-origin:center center">コバルト磁石</span></div>
<div class="c tb" style="left:510px;top:739px;width:49px;height:30px;font-size:10px;"><span style="display:inline-block;transform:scaleX(0.750);transform-origin:center center">ネオジム磁石</span></div>
<div class="c" style="left:559px;top:724px;width:49px;height:15px;font-size:11px;">−</div>
<div class="c tb" style="left:559px;top:739px;width:49px;height:30px;font-size:10px;"><span style="display:inline-block;transform:scaleX(0.629);transform-origin:center center">ニッケルメッキ</span></div>
<div class="c" style="left:608px;top:724px;width:50px;height:30px;font-size:10px;line-height:11.5px;"><span style="display:inline-block;transform:scaleX(0.839);transform-origin:center center">黄銅<br>(C3604BD)</span></div>
<div class="c tb" style="left:608px;top:754px;width:50px;height:15px;font-size:11px;">−</div>
<div class="c tb nr" style="left:658px;top:724px;width:29px;height:45px;font-size:10.5px;"><span style="display:inline-block;transform:scaleX(0.820);transform-origin:center center">80℃</span></div>
<svg style="left:694.5px;top:749.8px" width="10" height="10" viewBox="0 0 12 12"><circle cx="6" cy="6" r="5.2" fill="#fff" stroke="#e4007f" stroke-width="0.9"/><circle cx="6" cy="4.6" r="2.3" fill="#e4007f"/><polygon points="4.3,6.2 7.7,6.2 6,9.4" fill="#e4007f"/><rect x="5.3" y="9.2" width="1.4" height="0.9" fill="#e4007f"/></svg>
<span class="t" style="top:749.55px;font-size:10.5px;line-height:10.5px;left:706.5px;transform:scaleX(0.831);transform-origin:left center;">皿ボルトタイプに黄銅は</span>
<span class="t" style="top:758.75px;font-size:10.5px;line-height:10.5px;left:706.5px;transform:scaleX(0.810);transform-origin:left center;">含まれていません。</span>
<svg style="left:224px;top:770px" width="602" height="208" viewBox="224 770 602 208" font-family="'Liberation Sans','Noto Sans CJK JP',sans-serif"><defs><pattern id="h3" width="2.2" height="2.2" patternUnits="userSpaceOnUse" patternTransform="rotate(45)"><rect width="2.2" height="2.2" fill="#fff"/><line x1="0" y1="0" x2="0" y2="2.2" stroke="#2e2825" stroke-width="1.1"/></pattern><pattern id="h4" width="1.3" height="1.3" patternUnits="userSpaceOnUse" patternTransform="rotate(45)"><rect width="1.3" height="1.3" fill="#b4b4b4"/><line x1="0" y1="0" x2="0" y2="1.3" stroke="#4a4441" stroke-width="0.7"/></pattern></defs><rect x="299.7" y="809.1" width="110.6" height="44.8" rx="22.4" fill="#e3e3e8" stroke="#231815" stroke-width="1"/><circle cx="355" cy="831.5" r="20.9" fill="#fff" stroke="#231815" stroke-width="1.1"/><circle cx="355" cy="831.5" r="19.3" fill="url(#h3)" stroke="#231815" stroke-width="0.7"/><circle cx="321.9" cy="831.5" r="9.8" fill="#fff" stroke="#231815" stroke-width="0.8"/><circle cx="321.9" cy="831.5" r="5" fill="#fff" stroke="#231815" stroke-width="0.8"/><line x1="321.9" y1="789.4" x2="321.9" y2="860.6" stroke="#231815" stroke-width="0.5" stroke-dasharray="22 1.5 2 1.5"/><circle cx="388.1" cy="831.5" r="9.8" fill="#fff" stroke="#231815" stroke-width="0.8"/><circle cx="388.1" cy="831.5" r="5" fill="#fff" stroke="#231815" stroke-width="0.8"/><line x1="388.1" y1="789.4" x2="388.1" y2="860.6" stroke="#231815" stroke-width="0.5" stroke-dasharray="22 1.5 2 1.5"/><line x1="294.2" y1="831.5" x2="416.3" y2="831.5" stroke="#231815" stroke-width="0.5" stroke-dasharray="14 1.5 2 1.5"/><line x1="355" y1="810.6" x2="355" y2="860.6" stroke="#231815" stroke-width="0.5" stroke-dasharray="14 1.5 2 1.5"/><line x1="321.9" y1="791.2" x2="388.1" y2="791.2" stroke="#231815" stroke-width="0.6"/><polygon points="321.9,791.2 326.1,790.1 326.1,792.3" fill="#231815"/><polygon points="388.1,791.2 383.9,792.3 383.9,790.1" fill="#231815"/><text x="355.5" y="790.3" font-size="11" fill="#231815" text-anchor="middle" textLength="27.5" lengthAdjust="spacingAndGlyphs">P±0.1</text><line x1="261.9" y1="809.1" x2="314.7" y2="809.1" stroke="#231815" stroke-width="0.6"/><line x1="261.9" y1="853.9" x2="314.7" y2="853.9" stroke="#231815" stroke-width="0.6"/><line x1="264.9" y1="809.1" x2="264.9" y2="853.9" stroke="#231815" stroke-width="0.6"/><polygon points="264.9,809.1 266,813.3 263.8,813.3" fill="#231815"/><polygon points="264.9,853.9 263.8,849.7 266,849.7" fill="#231815"/><text x="261.3" y="848" font-size="11" font-weight="700" fill="#009fe8" transform="rotate(-90 261.3 848)">B</text><text x="260.4" y="839.4" font-size="8" fill="#231815" transform="rotate(-90 260.4 839.4)">−</text><text x="260.5" y="834.4" font-size="7.5" fill="#231815" textLength="9.6" lengthAdjust="spacingAndGlyphs" transform="rotate(-90 260.5 834.4)">0.1</text><text x="252.7" y="831" font-size="7.5" fill="#231815" transform="rotate(-90 252.7 831)">0</text><line x1="388.1" y1="831.5" x2="415.1" y2="815.3" stroke="#231815" stroke-width="0.6"/><polygon points="407.31,819.98 410.34,816.87 411.48,818.76" fill="#231815"/><text x="414.1" y="810.8" font-size="11" fill="#231815" text-anchor="middle" textLength="6.5" lengthAdjust="spacingAndGlyphs" transform="rotate(-31 414.1 810.8)">R</text><line x1="298.56" y1="794.81" x2="312.8" y2="812.8" stroke="#231815" stroke-width="0.6"/><circle cx="295.7" cy="791.2" r="4.6" fill="#fff" stroke="#231815" stroke-width="0.6"/><text x="295.7" y="794.2" font-size="8.5" fill="#231815" text-anchor="middle">1</text><line x1="400.7" y1="795.23" x2="367.2" y2="816.1" stroke="#231815" stroke-width="0.6"/><circle cx="404.6" cy="792.8" r="4.6" fill="#fff" stroke="#231815" stroke-width="0.6"/><text x="404.6" y="795.8" font-size="8.5" fill="#231815" text-anchor="middle">2</text><text x="229.5" y="785.3" font-size="10" fill="#231815" textLength="62" lengthAdjust="spacingAndGlyphs">（ザグリタイプ）</text><rect x="299.7" y="911.7" width="110.6" height="20.0" rx="1.6" fill="#e3e3e8" stroke="#231815" stroke-width="1"/><path d="M311.4,911.7 L311.4,923.9 L316.5,923.9 L316.5,931.7 L327.3,931.7 L327.3,923.9 L332.4,923.9 L332.4,911.7 Z" fill="#e3e3e8" stroke="#231815" stroke-width="0.8"/><line x1="321.9" y1="907" x2="321.9" y2="936" stroke="#231815" stroke-width="0.5" stroke-dasharray="8 1.5 2 1.5"/><path d="M377.6,911.7 L377.6,923.9 L382.7,923.9 L382.7,931.7 L393.5,931.7 L393.5,923.9 L398.6,923.9 L398.6,911.7 Z" fill="#e3e3e8" stroke="#231815" stroke-width="0.8"/><line x1="388.1" y1="907" x2="388.1" y2="936" stroke="#231815" stroke-width="0.5" stroke-dasharray="8 1.5 2 1.5"/><path d="M334.3,911.7 L334.3,925.4 L375.7,925.4 L375.7,911.7" fill="#e3e3e8" stroke="#231815" stroke-width="0.6"/><polygon points="335.4,911.7 374.6,911.7 374.6,921.8 371.6,924.8 358.5,924.8 355,929.2 351.5,924.8 338.4,924.8 335.4,921.8" fill="#fff" stroke="#231815" stroke-width="0.8"/><polygon points="336.1,912.3 373.9,912.3 373.9,921.6 371.4,924.1 338.6,924.1 336.1,921.6" fill="url(#h4)"/><line x1="355" y1="907" x2="355" y2="936" stroke="#231815" stroke-width="0.5" stroke-dasharray="8 1.5 2 1.5"/><line x1="334.3" y1="868" x2="334.3" y2="911.7" stroke="#231815" stroke-width="0.6"/><line x1="375.7" y1="868" x2="375.7" y2="911.7" stroke="#231815" stroke-width="0.6"/><line x1="334.3" y1="871.7" x2="375.7" y2="871.7" stroke="#231815" stroke-width="0.6"/><polygon points="334.3,871.7 338.5,870.6 338.5,872.8" fill="#231815"/><polygon points="375.7,871.7 371.5,872.8 371.5,870.6" fill="#231815"/><text x="351.5" y="870.6" font-size="11" fill="#231815" text-anchor="middle">d</text><text x="357.3" y="871" font-size="8" fill="#231815" text-anchor="middle">2</text><line x1="335.6" y1="886" x2="335.6" y2="911.7" stroke="#231815" stroke-width="0.6"/><line x1="374.4" y1="886" x2="374.4" y2="911.7" stroke="#231815" stroke-width="0.6"/><line x1="335.6" y1="889" x2="374.4" y2="889" stroke="#231815" stroke-width="0.6"/><polygon points="335.6,889 339.8,887.9 339.8,890.1" fill="#231815"/><polygon points="374.4,889 370.2,890.1 370.2,887.9" fill="#231815"/><text x="351.5" y="888.2" font-size="11" fill="#231815" text-anchor="middle">d</text><text x="357.3" y="888.6" font-size="8" fill="#231815" text-anchor="middle">1</text><line x1="311.4" y1="886" x2="311.4" y2="911.7" stroke="#231815" stroke-width="0.6"/><line x1="332.4" y1="886" x2="332.4" y2="911.7" stroke="#231815" stroke-width="0.6"/><line x1="311.4" y1="889" x2="332.4" y2="889" stroke="#231815" stroke-width="0.6"/><polygon points="311.4,889 315.6,887.9 315.6,890.1" fill="#231815"/><polygon points="332.4,889 328.2,890.1 328.2,887.9" fill="#231815"/><text x="320.9" y="886.4" font-size="11" fill="#231815" text-anchor="middle">g</text><text x="353.4" y="908.2" font-size="10" fill="#231815" text-anchor="middle" textLength="17" lengthAdjust="spacingAndGlyphs">N極</text><line x1="389.6" y1="887.76" x2="374.6" y2="911" stroke="#231815" stroke-width="0.6"/><circle cx="392.1" cy="883.9" r="4.6" fill="#fff" stroke="#231815" stroke-width="0.6"/><text x="392.1" y="886.9" font-size="8.5" fill="#231815" text-anchor="middle">3</text><polygon points="374.6,911 375.95,906.87 377.8,908.07" fill="#231815"/><line x1="279.5" y1="911.7" x2="299.7" y2="911.7" stroke="#231815" stroke-width="0.6"/><line x1="279.5" y1="923.9" x2="311.4" y2="923.9" stroke="#231815" stroke-width="0.6"/><line x1="282.3" y1="901.7" x2="282.3" y2="933.9" stroke="#231815" stroke-width="0.6"/><polygon points="282.3,911.7 281.2,907.5 283.4,907.5" fill="#231815"/><polygon points="282.3,923.9 283.4,928.1 281.2,928.1" fill="#231815"/><text x="281.5" y="917.8" font-size="10.5" fill="#231815" text-anchor="middle" transform="rotate(-90 281.5 917.8)">h</text><line x1="261.6" y1="911.7" x2="299.7" y2="911.7" stroke="#231815" stroke-width="0.6"/><line x1="261.6" y1="931.7" x2="299.7" y2="931.7" stroke="#231815" stroke-width="0.6"/><line x1="264.6" y1="900.7" x2="264.6" y2="942.7" stroke="#231815" stroke-width="0.6"/><polygon points="264.6,911.7 263.5,907.5 265.7,907.5" fill="#231815"/><polygon points="264.6,931.7 265.7,935.9 263.5,935.9" fill="#231815"/><text x="261" y="936.2" font-size="11" fill="#231815" transform="rotate(-90 261 936.2)">T</text><text x="260.1" y="927.6" font-size="8" fill="#231815" transform="rotate(-90 260.1 927.6)">−</text><text x="260.2" y="922.6" font-size="7.5" fill="#231815" textLength="9.6" lengthAdjust="spacingAndGlyphs" transform="rotate(-90 260.2 922.6)">0.1</text><text x="252.4" y="919.2" font-size="7.5" fill="#231815" transform="rotate(-90 252.4 919.2)">0</text><line x1="316.5" y1="931.7" x2="316.5" y2="952" stroke="#231815" stroke-width="0.6"/><line x1="327.3" y1="931.7" x2="327.3" y2="952" stroke="#231815" stroke-width="0.6"/><line x1="305" y1="949.4" x2="338.8" y2="949.4" stroke="#231815" stroke-width="0.6"/><polygon points="316.5,949.4 312.3,950.5 312.3,948.3" fill="#231815"/><polygon points="327.3,949.4 331.5,948.3 331.5,950.5" fill="#231815"/><text x="321.9" y="948.4" font-size="11" fill="#231815" text-anchor="middle">d</text><line x1="299.7" y1="931.7" x2="299.7" y2="970.2" stroke="#231815" stroke-width="0.6"/><line x1="410.3" y1="931.7" x2="410.3" y2="970.2" stroke="#231815" stroke-width="0.6"/><line x1="299.7" y1="967.7" x2="410.3" y2="967.7" stroke="#231815" stroke-width="0.6"/><polygon points="299.7,967.7 303.9,966.6 303.9,968.8" fill="#231815"/><polygon points="410.3,967.7 406.1,968.8 406.1,966.6" fill="#231815"/><text x="346.1" y="965.5" font-size="11" fill="#231815" text-anchor="middle" textLength="6.5" lengthAdjust="spacingAndGlyphs">A</text><text x="360.9" y="958.3" font-size="7.5" fill="#231815" text-anchor="middle">0</text><text x="351.6" y="965.1" font-size="8" fill="#231815">−</text><text x="357.1" y="965.5" font-size="7.5" fill="#231815" textLength="10.5" lengthAdjust="spacingAndGlyphs">0.5</text><rect x="486.1" y="809.1" width="110.6" height="44.8" rx="22.4" fill="#e3e3e8" stroke="#231815" stroke-width="1"/><circle cx="541.4" cy="831.5" r="20.9" fill="#fff" stroke="#231815" stroke-width="1.1"/><circle cx="541.4" cy="831.5" r="19.3" fill="url(#h3)" stroke="#231815" stroke-width="0.7"/><circle cx="508.5" cy="831.5" r="5.2" fill="#fff" stroke="#231815" stroke-width="0.9"/><line x1="508.5" y1="789.4" x2="508.5" y2="860.6" stroke="#231815" stroke-width="0.5" stroke-dasharray="22 1.5 2 1.5"/><circle cx="574.3" cy="831.5" r="5.2" fill="#fff" stroke="#231815" stroke-width="0.9"/><line x1="574.3" y1="789.4" x2="574.3" y2="860.6" stroke="#231815" stroke-width="0.5" stroke-dasharray="22 1.5 2 1.5"/><line x1="480.6" y1="831.5" x2="602.7" y2="831.5" stroke="#231815" stroke-width="0.5" stroke-dasharray="14 1.5 2 1.5"/><line x1="541.4" y1="810.6" x2="541.4" y2="860.6" stroke="#231815" stroke-width="0.5" stroke-dasharray="14 1.5 2 1.5"/><line x1="508.5" y1="791.2" x2="574.3" y2="791.2" stroke="#231815" stroke-width="0.6"/><polygon points="508.5,791.2 512.7,790.1 512.7,792.3" fill="#231815"/><polygon points="574.3,791.2 570.1,792.3 570.1,790.1" fill="#231815"/><text x="541.9" y="790.3" font-size="11" fill="#231815" text-anchor="middle" textLength="27.5" lengthAdjust="spacingAndGlyphs">P±0.1</text><line x1="448.3" y1="809.1" x2="501.1" y2="809.1" stroke="#231815" stroke-width="0.6"/><line x1="448.3" y1="853.9" x2="501.1" y2="853.9" stroke="#231815" stroke-width="0.6"/><line x1="451.3" y1="809.1" x2="451.3" y2="853.9" stroke="#231815" stroke-width="0.6"/><polygon points="451.3,809.1 452.4,813.3 450.2,813.3" fill="#231815"/><polygon points="451.3,853.9 450.2,849.7 452.4,849.7" fill="#231815"/><text x="447.7" y="848" font-size="11" font-weight="700" fill="#009fe8" transform="rotate(-90 447.7 848)">B</text><text x="446.8" y="839.4" font-size="8" fill="#231815" transform="rotate(-90 446.8 839.4)">−</text><text x="446.9" y="834.4" font-size="7.5" fill="#231815" textLength="9.6" lengthAdjust="spacingAndGlyphs" transform="rotate(-90 446.9 834.4)">0.1</text><text x="439.1" y="831" font-size="7.5" fill="#231815" transform="rotate(-90 439.1 831)">0</text><line x1="574.3" y1="831.5" x2="601.3" y2="815.3" stroke="#231815" stroke-width="0.6"/><polygon points="593.51,819.98 596.54,816.87 597.68,818.76" fill="#231815"/><text x="600.3" y="810.8" font-size="11" fill="#231815" text-anchor="middle" textLength="6.5" lengthAdjust="spacingAndGlyphs" transform="rotate(-31 600.3 810.8)">R</text><line x1="486.58" y1="794.94" x2="499.4" y2="812.8" stroke="#231815" stroke-width="0.6"/><circle cx="483.9" cy="791.2" r="4.6" fill="#fff" stroke="#231815" stroke-width="0.6"/><text x="483.9" y="794.2" font-size="8.5" fill="#231815" text-anchor="middle">1</text><line x1="587.73" y1="795.13" x2="553.9" y2="815" stroke="#231815" stroke-width="0.6"/><circle cx="591.7" cy="792.8" r="4.6" fill="#fff" stroke="#231815" stroke-width="0.6"/><text x="591.7" y="795.8" font-size="8.5" fill="#231815" text-anchor="middle">2</text><text x="416" y="785.3" font-size="10" fill="#231815" textLength="60" lengthAdjust="spacingAndGlyphs">（タップタイプ）</text><rect x="486.1" y="911.7" width="110.6" height="20.0" rx="1.6" fill="#e3e3e8" stroke="#231815" stroke-width="1"/><rect x="504" y="911.7" width="9" height="20.0" fill="#f6f6f8" stroke="none"/><line x1="503.8" y1="911.7" x2="503.8" y2="931.7" stroke="#231815" stroke-width="1.5"/><line x1="513.2" y1="911.7" x2="513.2" y2="931.7" stroke="#231815" stroke-width="1.5"/><line x1="505.3" y1="911.7" x2="505.3" y2="931.7" stroke="#231815" stroke-width="0.5"/><line x1="511.7" y1="911.7" x2="511.7" y2="931.7" stroke="#231815" stroke-width="0.5"/><line x1="508.5" y1="907" x2="508.5" y2="936" stroke="#231815" stroke-width="0.5" stroke-dasharray="8 1.5 2 1.5"/><rect x="569.8" y="911.7" width="9" height="20.0" fill="#f6f6f8" stroke="none"/><line x1="569.6" y1="911.7" x2="569.6" y2="931.7" stroke="#231815" stroke-width="1.5"/><line x1="579" y1="911.7" x2="579" y2="931.7" stroke="#231815" stroke-width="1.5"/><line x1="571.1" y1="911.7" x2="571.1" y2="931.7" stroke="#231815" stroke-width="0.5"/><line x1="577.5" y1="911.7" x2="577.5" y2="931.7" stroke="#231815" stroke-width="0.5"/><line x1="574.3" y1="907" x2="574.3" y2="936" stroke="#231815" stroke-width="0.5" stroke-dasharray="8 1.5 2 1.5"/><path d="M521.1,911.7 L521.1,925.6 L561.7,925.6 L561.7,911.7" fill="#e3e3e8" stroke="#231815" stroke-width="0.6"/><polygon points="522.1,911.7 560.7,911.7 560.7,922 557.7,925 544.9,925 541.4,929.2 537.9,925 525.1,925 522.1,922" fill="#fff" stroke="#231815" stroke-width="0.8"/><polygon points="522.8,912.3 560,912.3 560,921.8 557.5,924.3 525.3,924.3 522.8,921.8" fill="url(#h4)"/><line x1="541.4" y1="907" x2="541.4" y2="936" stroke="#231815" stroke-width="0.5" stroke-dasharray="8 1.5 2 1.5"/><line x1="521.1" y1="868" x2="521.1" y2="911.7" stroke="#231815" stroke-width="0.6"/><line x1="561.7" y1="868" x2="561.7" y2="911.7" stroke="#231815" stroke-width="0.6"/><line x1="521.1" y1="871.7" x2="561.7" y2="871.7" stroke="#231815" stroke-width="0.6"/><polygon points="521.1,871.7 525.3,870.6 525.3,872.8" fill="#231815"/><polygon points="561.7,871.7 557.5,872.8 557.5,870.6" fill="#231815"/><text x="538.9" y="870.6" font-size="11" fill="#231815" text-anchor="middle">d</text><text x="544.7" y="871" font-size="8" fill="#231815" text-anchor="middle">2</text><line x1="522.8" y1="886" x2="522.8" y2="911.7" stroke="#231815" stroke-width="0.6"/><line x1="560" y1="886" x2="560" y2="911.7" stroke="#231815" stroke-width="0.6"/><line x1="522.8" y1="889" x2="560" y2="889" stroke="#231815" stroke-width="0.6"/><polygon points="522.8,889 527,887.9 527,890.1" fill="#231815"/><polygon points="560,889 555.8,890.1 555.8,887.9" fill="#231815"/><text x="538.9" y="888.2" font-size="11" fill="#231815" text-anchor="middle">d</text><text x="544.7" y="888.6" font-size="8" fill="#231815" text-anchor="middle">1</text><text x="540.8" y="908.2" font-size="10" fill="#231815" text-anchor="middle" textLength="17" lengthAdjust="spacingAndGlyphs">N極</text><text x="470.6" y="888" font-size="10.5" fill="#231815" textLength="23" lengthAdjust="spacingAndGlyphs">2−M</text><line x1="470" y1="889.6" x2="494.5" y2="889.6" stroke="#231815" stroke-width="0.6"/><line x1="494.5" y1="889.6" x2="507.2" y2="910.8" stroke="#231815" stroke-width="0.6"/><polygon points="507.2,910.8 504.1,907.76 505.99,906.63" fill="#231815"/><line x1="576.9" y1="887.76" x2="561.9" y2="911" stroke="#231815" stroke-width="0.6"/><circle cx="579.4" cy="883.9" r="4.6" fill="#fff" stroke="#231815" stroke-width="0.6"/><text x="579.4" y="886.9" font-size="8.5" fill="#231815" text-anchor="middle">3</text><polygon points="561.9,911 563.25,906.87 565.1,908.07" fill="#231815"/><line x1="448" y1="911.7" x2="486.1" y2="911.7" stroke="#231815" stroke-width="0.6"/><line x1="448" y1="931.7" x2="486.1" y2="931.7" stroke="#231815" stroke-width="0.6"/><line x1="451" y1="900.7" x2="451" y2="942.7" stroke="#231815" stroke-width="0.6"/><polygon points="451,911.7 449.9,907.5 452.1,907.5" fill="#231815"/><polygon points="451,931.7 452.1,935.9 449.9,935.9" fill="#231815"/><text x="447.4" y="936.2" font-size="11" fill="#231815" transform="rotate(-90 447.4 936.2)">T</text><text x="446.5" y="927.6" font-size="8" fill="#231815" transform="rotate(-90 446.5 927.6)">−</text><text x="446.6" y="922.6" font-size="7.5" fill="#231815" textLength="9.6" lengthAdjust="spacingAndGlyphs" transform="rotate(-90 446.6 922.6)">0.1</text><text x="438.8" y="919.2" font-size="7.5" fill="#231815" transform="rotate(-90 438.8 919.2)">0</text><line x1="486.1" y1="931.7" x2="486.1" y2="970.2" stroke="#231815" stroke-width="0.6"/><line x1="596.7" y1="931.7" x2="596.7" y2="970.2" stroke="#231815" stroke-width="0.6"/><line x1="486.1" y1="967.7" x2="596.7" y2="967.7" stroke="#231815" stroke-width="0.6"/><polygon points="486.1,967.7 490.3,966.6 490.3,968.8" fill="#231815"/><polygon points="596.7,967.7 592.5,968.8 592.5,966.6" fill="#231815"/><text x="532.8" y="965.5" font-size="11" fill="#231815" text-anchor="middle" textLength="6.5" lengthAdjust="spacingAndGlyphs">A</text><text x="547.6" y="958.3" font-size="7.5" fill="#231815" text-anchor="middle">0</text><text x="538.3" y="965.1" font-size="8" fill="#231815">−</text><text x="543.8" y="965.5" font-size="7.5" fill="#231815" textLength="10.5" lengthAdjust="spacingAndGlyphs">0.5</text><rect x="675.8" y="809.1" width="110.6" height="44.8" rx="22.4" fill="#e3e3e8" stroke="#231815" stroke-width="1"/><circle cx="731.1" cy="831.5" r="18.4" fill="url(#h3)" stroke="#231815" stroke-width="0.9"/><circle cx="698.1" cy="831.5" r="9.7" fill="#fff" stroke="#231815" stroke-width="0.8"/><circle cx="698.1" cy="831.5" r="4.6" fill="#fff" stroke="#231815" stroke-width="0.8"/><line x1="698.1" y1="789.4" x2="698.1" y2="860.6" stroke="#231815" stroke-width="0.5" stroke-dasharray="22 1.5 2 1.5"/><circle cx="764.1" cy="831.5" r="9.7" fill="#fff" stroke="#231815" stroke-width="0.8"/><circle cx="764.1" cy="831.5" r="4.6" fill="#fff" stroke="#231815" stroke-width="0.8"/><line x1="764.1" y1="789.4" x2="764.1" y2="860.6" stroke="#231815" stroke-width="0.5" stroke-dasharray="22 1.5 2 1.5"/><line x1="670.3" y1="831.5" x2="792.4" y2="831.5" stroke="#231815" stroke-width="0.5" stroke-dasharray="14 1.5 2 1.5"/><line x1="731.1" y1="810.6" x2="731.1" y2="860.6" stroke="#231815" stroke-width="0.5" stroke-dasharray="14 1.5 2 1.5"/><line x1="698.1" y1="791.2" x2="764.1" y2="791.2" stroke="#231815" stroke-width="0.6"/><polygon points="698.1,791.2 702.3,790.1 702.3,792.3" fill="#231815"/><polygon points="764.1,791.2 759.9,792.3 759.9,790.1" fill="#231815"/><text x="731.6" y="790.3" font-size="11" fill="#231815" text-anchor="middle" textLength="27.5" lengthAdjust="spacingAndGlyphs">P±0.1</text><line x1="638" y1="809.1" x2="690.8" y2="809.1" stroke="#231815" stroke-width="0.6"/><line x1="638" y1="853.9" x2="690.8" y2="853.9" stroke="#231815" stroke-width="0.6"/><line x1="641" y1="809.1" x2="641" y2="853.9" stroke="#231815" stroke-width="0.6"/><polygon points="641,809.1 642.1,813.3 639.9,813.3" fill="#231815"/><polygon points="641,853.9 639.9,849.7 642.1,849.7" fill="#231815"/><text x="637.4" y="848" font-size="11" font-weight="700" fill="#009fe8" transform="rotate(-90 637.4 848)">B</text><text x="636.5" y="839.4" font-size="8" fill="#231815" transform="rotate(-90 636.5 839.4)">−</text><text x="636.6" y="834.4" font-size="7.5" fill="#231815" textLength="9.6" lengthAdjust="spacingAndGlyphs" transform="rotate(-90 636.6 834.4)">0.1</text><text x="628.8" y="831" font-size="7.5" fill="#231815" transform="rotate(-90 628.8 831)">0</text><line x1="764.1" y1="831.5" x2="791.1" y2="815.3" stroke="#231815" stroke-width="0.6"/><polygon points="783.31,819.98 786.34,816.87 787.48,818.76" fill="#231815"/><text x="790.1" y="810.8" font-size="11" fill="#231815" text-anchor="middle" textLength="6.5" lengthAdjust="spacingAndGlyphs" transform="rotate(-31 790.1 810.8)">R</text><line x1="673.72" y1="794.31" x2="688.2" y2="814" stroke="#231815" stroke-width="0.6"/><circle cx="671" cy="790.6" r="4.6" fill="#fff" stroke="#231815" stroke-width="0.6"/><text x="671" y="793.6" font-size="8.5" fill="#231815" text-anchor="middle">1</text><line x1="776.28" y1="795" x2="741.8" y2="816.1" stroke="#231815" stroke-width="0.6"/><circle cx="780.2" cy="792.6" r="4.6" fill="#fff" stroke="#231815" stroke-width="0.6"/><text x="780.2" y="795.6" font-size="8.5" fill="#231815" text-anchor="middle">2</text><text x="600.5" y="786" font-size="10" fill="#231815" textLength="67.5" lengthAdjust="spacingAndGlyphs">（皿ボルトタイプ）</text><rect x="676.1" y="915.3" width="110" height="13.3" rx="1.5" fill="#e3e3e8" stroke="#231815" stroke-width="1"/><path d="M687.9,915.3 L693,922.2 L693,928.6 L703.2,928.6 L703.2,922.2 L708.3,915.3 Z" fill="#e3e3e8" stroke="#231815" stroke-width="0.8"/><line x1="693" y1="922.2" x2="703.2" y2="922.2" stroke="#231815" stroke-width="0.6"/><line x1="698.1" y1="908" x2="698.1" y2="934" stroke="#231815" stroke-width="0.5" stroke-dasharray="8 1.5 2 1.5"/><path d="M753.9,915.3 L759,922.2 L759,928.6 L769.2,928.6 L769.2,922.2 L774.3,915.3 Z" fill="#e3e3e8" stroke="#231815" stroke-width="0.8"/><line x1="759" y1="922.2" x2="769.2" y2="922.2" stroke="#231815" stroke-width="0.6"/><line x1="764.1" y1="908" x2="764.1" y2="934" stroke="#231815" stroke-width="0.5" stroke-dasharray="8 1.5 2 1.5"/><polygon points="712.4,915.3 748.7,915.3 748.7,920.1 747.2,921.6 734.1,921.6 730.6,925.2 727.1,921.6 713.9,921.6 712.4,920.1" fill="#fff" stroke="#231815" stroke-width="0.8"/><polygon points="713.1,915.9 748,915.9 748,919.9 747,920.9 714.1,920.9 713.1,919.9" fill="url(#h4)"/><line x1="730.6" y1="908" x2="730.6" y2="934" stroke="#231815" stroke-width="0.5" stroke-dasharray="8 1.5 2 1.5"/><line x1="687.9" y1="889" x2="687.9" y2="915.3" stroke="#231815" stroke-width="0.6"/><line x1="708.3" y1="889" x2="708.3" y2="915.3" stroke="#231815" stroke-width="0.6"/><line x1="687.9" y1="892" x2="708.3" y2="892" stroke="#231815" stroke-width="0.6"/><polygon points="687.9,892 692.1,890.9 692.1,893.1" fill="#231815"/><polygon points="708.3,892 704.1,893.1 704.1,890.9" fill="#231815"/><text x="696.6" y="889.2" font-size="11" fill="#231815" text-anchor="middle">d</text><text x="702.4" y="889.6" font-size="8" fill="#231815" text-anchor="middle">4</text><line x1="712.4" y1="889" x2="712.4" y2="915.3" stroke="#231815" stroke-width="0.6"/><line x1="748.7" y1="889" x2="748.7" y2="915.3" stroke="#231815" stroke-width="0.6"/><line x1="712.4" y1="892" x2="748.7" y2="892" stroke="#231815" stroke-width="0.6"/><polygon points="712.4,892 716.6,890.9 716.6,893.1" fill="#231815"/><polygon points="748.7,892 744.5,893.1 744.5,890.9" fill="#231815"/><text x="728.1" y="891.2" font-size="11" fill="#231815" text-anchor="middle">d</text><text x="733.9" y="891.6" font-size="8" fill="#231815" text-anchor="middle">1</text><text x="729.6" y="910.4" font-size="10" fill="#231815" text-anchor="middle" textLength="17" lengthAdjust="spacingAndGlyphs">N極</text><line x1="656" y1="915.3" x2="676.1" y2="915.3" stroke="#231815" stroke-width="0.6"/><line x1="656" y1="922.2" x2="693" y2="922.2" stroke="#231815" stroke-width="0.6"/><line x1="658.3" y1="904.3" x2="658.3" y2="933.2" stroke="#231815" stroke-width="0.6"/><polygon points="658.3,915.3 657.2,911.1 659.4,911.1" fill="#231815"/><polygon points="658.3,922.2 659.4,926.4 657.2,926.4" fill="#231815"/><text x="656.5" y="904.5" font-size="10" fill="#231815" text-anchor="middle" transform="rotate(-90 656.5 904.5)">E</text><line x1="637.9" y1="915.3" x2="676.1" y2="915.3" stroke="#231815" stroke-width="0.6"/><line x1="637.9" y1="928.6" x2="676.1" y2="928.6" stroke="#231815" stroke-width="0.6"/><line x1="640.9" y1="904.3" x2="640.9" y2="939.6" stroke="#231815" stroke-width="0.6"/><polygon points="640.9,915.3 639.8,911.1 642,911.1" fill="#231815"/><polygon points="640.9,928.6 642,932.8 639.8,932.8" fill="#231815"/><text x="637.3" y="933.1" font-size="11" fill="#231815" transform="rotate(-90 637.3 933.1)">T</text><text x="636.4" y="924.5" font-size="8" fill="#231815" transform="rotate(-90 636.4 924.5)">−</text><text x="636.5" y="919.5" font-size="7.5" fill="#231815" textLength="9.6" lengthAdjust="spacingAndGlyphs" transform="rotate(-90 636.5 919.5)">0.1</text><text x="628.7" y="916.1" font-size="7.5" fill="#231815" transform="rotate(-90 628.7 916.1)">0</text><line x1="693" y1="928.6" x2="693" y2="949" stroke="#231815" stroke-width="0.6"/><line x1="703.2" y1="928.6" x2="703.2" y2="949" stroke="#231815" stroke-width="0.6"/><line x1="681.8" y1="946.4" x2="718.8" y2="946.4" stroke="#231815" stroke-width="0.6"/><polygon points="693,946.4 688.8,947.5 688.8,945.3" fill="#231815"/><polygon points="703.2,946.4 707.4,945.3 707.4,947.5" fill="#231815"/><text x="710.5" y="944.6" font-size="11" fill="#231815" text-anchor="middle">d</text><text x="716.3" y="945" font-size="8" fill="#231815" text-anchor="middle">3</text><line x1="676.1" y1="928.6" x2="676.1" y2="966.8" stroke="#231815" stroke-width="0.6"/><line x1="786.1" y1="928.6" x2="786.1" y2="966.8" stroke="#231815" stroke-width="0.6"/><line x1="676.1" y1="964.3" x2="786.1" y2="964.3" stroke="#231815" stroke-width="0.6"/><polygon points="676.1,964.3 680.3,963.2 680.3,965.4" fill="#231815"/><polygon points="786.1,964.3 781.9,965.4 781.9,963.2" fill="#231815"/><text x="723.4" y="962.1" font-size="11" fill="#231815" text-anchor="middle" textLength="6.5" lengthAdjust="spacingAndGlyphs">A</text><text x="738.2" y="954.9" font-size="7.5" fill="#231815" text-anchor="middle">0</text><text x="728.9" y="961.7" font-size="8" fill="#231815">−</text><text x="734.4" y="962.1" font-size="7.5" fill="#231815" textLength="10.5" lengthAdjust="spacingAndGlyphs">0.5</text></svg>
<div class="a" style="left:74px;top:990px;width:752px;height:2px;z-index:2;background:linear-gradient(#231815 50%,#6a6361 50%);"></div>
<div class="c hd tr" style="left:74px;top:991px;width:104px;height:17px;font-size:10px;">型式</div>
<div class="c hd tb" style="left:74px;top:1008px;width:83px;height:17px;font-size:10.5px;">Type</div>
<div class="c hd tb tr" style="left:157px;top:1008px;width:21px;height:17px;font-size:10.5px;">B</div>
<div class="c hd tb" style="left:178px;top:991px;width:15px;height:34px;font-size:10.5px;">A</div>
<div class="c hd tb" style="left:193px;top:991px;width:15px;height:34px;font-size:10.5px;">P</div>
<div class="c hd tb" style="left:208px;top:991px;width:15px;height:34px;font-size:10.5px;">T</div>
<div class="c hd tb" style="left:223px;top:991px;width:20px;height:34px;font-size:10.5px;">R</div>
<div class="c hd" style="left:243px;top:991px;width:60px;height:17px;font-size:9.5px;"><span style="display:inline-block;transform:scaleX(0.947);transform-origin:center center">ザグリタイプ</span></div>
<div class="c hd tb" style="left:243px;top:1008px;width:20px;height:17px;font-size:10.5px;">g</div>
<div class="c hd tb" style="left:263px;top:1008px;width:20px;height:17px;font-size:10.5px;">d</div>
<div class="c hd tb" style="left:283px;top:1008px;width:20px;height:17px;font-size:10.5px;">h</div>
<div class="c hd" style="left:303px;top:991px;width:48px;height:17px;font-size:9.5px;"><span style="display:inline-block;transform:scaleX(0.772);transform-origin:center center">タップタイプ</span></div>
<div class="c hd tb" style="left:303px;top:1008px;width:48px;height:17px;font-size:10px;"><span style="display:inline-block;transform:scaleX(0.786);transform-origin:center center">M（並目）</span></div>
<div class="c hd" style="left:351px;top:991px;width:139px;height:17px;font-size:10px;">吸着力&nbsp; N{kgf}</div>
<div class="c hd tb" style="left:351px;top:1008px;width:69px;height:17px;font-size:10px;"><span style="display:inline-block;transform:scaleX(0.812);transform-origin:center center">HXUKZ・HXUKM</span></div>
<div class="c hd tb" style="left:420px;top:1008px;width:70px;height:17px;font-size:10px;"><span style="display:inline-block;transform:scaleX(0.709);transform-origin:center center">HXUKZN・HXUKMN</span></div>
<div class="c hd tb" style="left:490px;top:991px;width:20px;height:34px;font-size:10.5px;"><span>d<small>1</small></span></div>
<div class="c hd tb" style="left:510px;top:991px;width:20px;height:34px;font-size:10.5px;"><span>d<small>2</small></span></div>
<div class="c hd tr" style="left:530px;top:991px;width:138px;height:17px;font-size:9.5px;">表面磁束密度&nbsp; ガウス[G]</div>
<div class="c hd tb" style="left:530px;top:1008px;width:69px;height:17px;font-size:10px;"><span style="display:inline-block;transform:scaleX(0.812);transform-origin:center center">HXUKZ・HXUKM</span></div>
<div class="c hd tb tr" style="left:599px;top:1008px;width:69px;height:17px;font-size:10px;"><span style="display:inline-block;transform:scaleX(0.709);transform-origin:center center">HXUKZN・HXUKMN</span></div>
<div class="c hd nr" style="left:668px;top:991px;width:158px;height:17px;font-size:9.5px;">¥基準単価</div>
<div class="c bl tb" style="left:668px;top:1008px;width:79px;height:17px;font-size:10.5px;font-weight:700;background:#fff;"><span style="display:inline-block;transform:scaleX(0.869);transform-origin:center center">HXUKZ・HXUKM</span></div>
<div class="c bl tb" style="left:747px;top:1008px;width:39px;height:17px;font-size:10.5px;font-weight:700;background:#fff;"><span style="display:inline-block;transform:scaleX(0.846);transform-origin:center center">HXUKZN</span></div>
<div class="c bl tb nr" style="left:786px;top:1008px;width:40px;height:17px;font-size:10.5px;font-weight:700;background:#fff;"><span style="display:inline-block;transform:scaleX(0.803);transform-origin:center center">HXUKMN</span></div>
<div class="a" style="left:74px;top:1025px;width:82px;height:67px;background:#fff;"></div>
<div class="a" style="left:156px;top:1025px;width:1px;height:69px;background:#6e6e6e;"></div>
<div class="a" style="left:74px;top:1092px;width:83px;height:2px;background:#231815;"></div>
<span class="t" style="top:1030.25px;font-size:8.5px;line-height:8.5px;left:71px;transform:scaleX(0.735);transform-origin:left center;">（ザグリタイプ）</span>
<span class="t" style="top:1038.4px;font-size:10.2px;line-height:10.2px;font-weight:700;color:#009fe8;left:75px;">HXUKZ</span>
<span class="t" style="top:1048.4px;font-size:10.2px;line-height:10.2px;font-weight:700;color:#009fe8;left:75px;">HXUKZN</span>
<span class="t" style="top:1059.35px;font-size:8.5px;line-height:8.5px;left:71px;transform:scaleX(0.735);transform-origin:left center;">（タップタイプ）</span>
<span class="t" style="top:1068.2px;font-size:10.2px;line-height:10.2px;font-weight:700;color:#009fe8;left:75px;">HXUKM</span>
<span class="t" style="top:1078.2px;font-size:10.2px;line-height:10.2px;font-weight:700;color:#009fe8;left:75px;">HXUKMN</span>
<div class="c tr" style="left:157px;top:1025px;width:21px;height:17.5px;font-size:10.5px;font-weight:700;color:#009fe8;background:#fff;">10</div>
<div class="c dt" style="left:178px;top:1025px;width:15px;height:17.5px;font-size:10px;"><span style="display:inline-block;transform:scaleX(0.900);transform-origin:center center">27</span></div>
<div class="c dt" style="left:193px;top:1025px;width:15px;height:17.5px;font-size:10px;"><span style="display:inline-block;transform:scaleX(0.900);transform-origin:center center">17</span></div>
<div class="c dt" style="left:223px;top:1025px;width:20px;height:17.5px;font-size:10px;"><span style="display:inline-block;transform:scaleX(0.900);transform-origin:center center">5</span></div>
<div class="c dt" style="left:351px;top:1025px;width:69px;height:17.5px;font-size:10px;"><span style="display:inline-block;transform:scaleX(0.900);transform-origin:center center">8.8{0.9}</span></div>
<div class="c dt" style="left:420px;top:1025px;width:70px;height:17.5px;font-size:10px;"><span style="display:inline-block;transform:scaleX(0.900);transform-origin:center center">13.7{1.4}</span></div>
<div class="c dt" style="left:490px;top:1025px;width:20px;height:17.5px;font-size:10px;"><span style="display:inline-block;transform:scaleX(0.900);transform-origin:center center">7</span></div>
<div class="c dt" style="left:510px;top:1025px;width:20px;height:17.5px;font-size:10px;"><span style="display:inline-block;transform:scaleX(0.900);transform-origin:center center">8</span></div>
<div class="c dt" style="left:530px;top:1025px;width:69px;height:17.5px;font-size:10px;"><span style="display:inline-block;transform:scaleX(0.900);transform-origin:center center">2700〜2900</span></div>
<div class="c dt" style="left:668px;top:1025px;width:79px;height:17.5px;font-size:10px;"><span style="display:inline-block;transform:scaleX(0.900);transform-origin:center center">1,350</span></div>
<div class="c dt" style="left:747px;top:1025px;width:39px;height:17.5px;font-size:10px;"><span style="display:inline-block;transform:scaleX(0.900);transform-origin:center center">1,410</span></div>
<div class="c dt nr" style="left:786px;top:1025px;width:40px;height:17.5px;font-size:10px;"><span style="display:inline-block;transform:scaleX(0.900);transform-origin:center center">1,490</span></div>
<div class="c tr" style="left:157px;top:1042.5px;width:21px;height:17px;font-size:10.5px;font-weight:700;color:#009fe8;background:#fff;">13</div>
<div class="c dt" style="left:178px;top:1042.5px;width:15px;height:17px;font-size:10px;"><span style="display:inline-block;transform:scaleX(0.900);transform-origin:center center">33</span></div>
<div class="c dt" style="left:193px;top:1042.5px;width:15px;height:17px;font-size:10px;"><span style="display:inline-block;transform:scaleX(0.900);transform-origin:center center">20</span></div>
<div class="c dt" style="left:223px;top:1042.5px;width:20px;height:17px;font-size:10px;"><span style="display:inline-block;transform:scaleX(0.900);transform-origin:center center">6.5</span></div>
<div class="c dt" style="left:351px;top:1042.5px;width:69px;height:17px;font-size:10px;"><span style="display:inline-block;transform:scaleX(0.900);transform-origin:center center">19.6{2.0}</span></div>
<div class="c dt" style="left:420px;top:1042.5px;width:70px;height:17px;font-size:10px;"><span style="display:inline-block;transform:scaleX(0.900);transform-origin:center center">30.4{3.1}</span></div>
<div class="c dt" style="left:490px;top:1042.5px;width:20px;height:17px;font-size:10px;"><span style="display:inline-block;transform:scaleX(0.900);transform-origin:center center">9.5</span></div>
<div class="c dt" style="left:510px;top:1042.5px;width:20px;height:17px;font-size:10px;"><span style="display:inline-block;transform:scaleX(0.900);transform-origin:center center">11</span></div>
<div class="c dt" style="left:530px;top:1042.5px;width:69px;height:17px;font-size:10px;"><span style="display:inline-block;transform:scaleX(0.900);transform-origin:center center">2800〜3100</span></div>
<div class="c dt" style="left:668px;top:1042.5px;width:79px;height:17px;font-size:10px;"><span style="display:inline-block;transform:scaleX(0.900);transform-origin:center center">1,610</span></div>
<div class="c dt" style="left:747px;top:1042.5px;width:39px;height:17px;font-size:10px;"><span style="display:inline-block;transform:scaleX(0.900);transform-origin:center center">1,670</span></div>
<div class="c dt nr" style="left:786px;top:1042.5px;width:40px;height:17px;font-size:10px;"><span style="display:inline-block;transform:scaleX(0.900);transform-origin:center center">1,760</span></div>
<div class="c tr" style="left:157px;top:1059.5px;width:21px;height:17px;font-size:10.5px;font-weight:700;color:#009fe8;background:#fff;">16</div>
<div class="c dt" style="left:178px;top:1059.5px;width:15px;height:17px;font-size:10px;"><span style="display:inline-block;transform:scaleX(0.900);transform-origin:center center">41</span></div>
<div class="c dt" style="left:193px;top:1059.5px;width:15px;height:17px;font-size:10px;"><span style="display:inline-block;transform:scaleX(0.900);transform-origin:center center">25</span></div>
<div class="c dt" style="left:223px;top:1059.5px;width:20px;height:17px;font-size:10px;"><span style="display:inline-block;transform:scaleX(0.900);transform-origin:center center">8</span></div>
<div class="c dt" style="left:351px;top:1059.5px;width:69px;height:17px;font-size:10px;"><span style="display:inline-block;transform:scaleX(0.900);transform-origin:center center">38.2{3.9}</span></div>
<div class="c dt" style="left:420px;top:1059.5px;width:70px;height:17px;font-size:10px;"><span style="display:inline-block;transform:scaleX(0.900);transform-origin:center center">63.7{6.5}</span></div>
<div class="c dt" style="left:490px;top:1059.5px;width:20px;height:17px;font-size:10px;"><span style="display:inline-block;transform:scaleX(0.873);transform-origin:center center">12.5</span></div>
<div class="c dt" style="left:510px;top:1059.5px;width:20px;height:17px;font-size:10px;"><span style="display:inline-block;transform:scaleX(0.900);transform-origin:center center">14</span></div>
<div class="c dt" style="left:530px;top:1059.5px;width:69px;height:17px;font-size:10px;"><span style="display:inline-block;transform:scaleX(0.900);transform-origin:center center">2900〜3300</span></div>
<div class="c dt" style="left:668px;top:1059.5px;width:79px;height:17px;font-size:10px;"><span style="display:inline-block;transform:scaleX(0.900);transform-origin:center center">1,900</span></div>
<div class="c dt" style="left:747px;top:1059.5px;width:39px;height:17px;font-size:10px;"><span style="display:inline-block;transform:scaleX(0.900);transform-origin:center center">1,950</span></div>
<div class="c dt nr" style="left:786px;top:1059.5px;width:40px;height:17px;font-size:10px;"><span style="display:inline-block;transform:scaleX(0.900);transform-origin:center center">2,060</span></div>
<div class="c tr tb" style="left:157px;top:1076.5px;width:21px;height:17.5px;font-size:10.5px;font-weight:700;color:#009fe8;background:#fff;">20</div>
<div class="c dt tb" style="left:178px;top:1076.5px;width:15px;height:17.5px;font-size:10px;"><span style="display:inline-block;transform:scaleX(0.900);transform-origin:center center">50</span></div>
<div class="c dt tb" style="left:193px;top:1076.5px;width:15px;height:17.5px;font-size:10px;"><span style="display:inline-block;transform:scaleX(0.900);transform-origin:center center">30</span></div>
<div class="c dt tb" style="left:223px;top:1076.5px;width:20px;height:17.5px;font-size:10px;"><span style="display:inline-block;transform:scaleX(0.900);transform-origin:center center">10</span></div>
<div class="c dt tb" style="left:351px;top:1076.5px;width:69px;height:17.5px;font-size:10px;"><span style="display:inline-block;transform:scaleX(0.900);transform-origin:center center">60.8{6.2}</span></div>
<div class="c dt tb" style="left:420px;top:1076.5px;width:70px;height:17.5px;font-size:10px;"><span style="display:inline-block;transform:scaleX(0.900);transform-origin:center center">114.7{11.7}</span></div>
<div class="c dt tb" style="left:490px;top:1076.5px;width:20px;height:17.5px;font-size:10px;"><span style="display:inline-block;transform:scaleX(0.873);transform-origin:center center">16.5</span></div>
<div class="c dt tb" style="left:510px;top:1076.5px;width:20px;height:17.5px;font-size:10px;"><span style="display:inline-block;transform:scaleX(0.900);transform-origin:center center">18</span></div>
<div class="c dt tb" style="left:530px;top:1076.5px;width:69px;height:17.5px;font-size:10px;"><span style="display:inline-block;transform:scaleX(0.900);transform-origin:center center">2900〜3400</span></div>
<div class="c dt tb" style="left:668px;top:1076.5px;width:79px;height:17.5px;font-size:10px;"><span style="display:inline-block;transform:scaleX(0.900);transform-origin:center center">2,630</span></div>
<div class="c dt tb" style="left:747px;top:1076.5px;width:39px;height:17.5px;font-size:10px;"><span style="display:inline-block;transform:scaleX(0.900);transform-origin:center center">2,650</span></div>
<div class="c dt nr tb" style="left:786px;top:1076.5px;width:40px;height:17.5px;font-size:10px;"><span style="display:inline-block;transform:scaleX(0.900);transform-origin:center center">2,790</span></div>
<div class="c dt" style="left:208px;top:1025px;width:15px;height:34.5px;font-size:10px;"><span style="display:inline-block;transform:scaleX(0.900);transform-origin:center center">7</span></div>
<div class="c dt" style="left:243px;top:1025px;width:20px;height:34.5px;font-size:10px;"><span style="display:inline-block;transform:scaleX(0.900);transform-origin:center center">8</span></div>
<div class="c dt" style="left:263px;top:1025px;width:20px;height:34.5px;font-size:10px;"><span style="display:inline-block;transform:scaleX(0.900);transform-origin:center center">4.5</span></div>
<div class="c dt" style="left:283px;top:1025px;width:20px;height:34.5px;font-size:10px;"><span style="display:inline-block;transform:scaleX(0.900);transform-origin:center center">4.5</span></div>
<div class="c dt" style="left:303px;top:1025px;width:48px;height:34.5px;font-size:10px;"><span style="display:inline-block;transform:scaleX(0.900);transform-origin:center center">M4</span></div>
<div class="c dt tb" style="left:208px;top:1059.5px;width:15px;height:34.5px;font-size:10px;"><span style="display:inline-block;transform:scaleX(0.900);transform-origin:center center">9</span></div>
<div class="c dt tb" style="left:243px;top:1059.5px;width:20px;height:34.5px;font-size:10px;"><span style="display:inline-block;transform:scaleX(0.900);transform-origin:center center">9.5</span></div>
<div class="c dt tb" style="left:263px;top:1059.5px;width:20px;height:34.5px;font-size:10px;"><span style="display:inline-block;transform:scaleX(0.900);transform-origin:center center">5.5</span></div>
<div class="c dt tb" style="left:283px;top:1059.5px;width:20px;height:34.5px;font-size:10px;"><span style="display:inline-block;transform:scaleX(0.900);transform-origin:center center">5.5</span></div>
<div class="c dt tb" style="left:303px;top:1059.5px;width:48px;height:34.5px;font-size:10px;"><span style="display:inline-block;transform:scaleX(0.900);transform-origin:center center">M5</span></div>
<div class="c dt tr" style="left:599px;top:1025px;width:69px;height:17.5px;font-size:10px;"><span style="display:inline-block;transform:scaleX(0.900);transform-origin:center center">3600〜3900</span></div>
<div class="c dt tr" style="left:599px;top:1042.5px;width:69px;height:34px;font-size:10px;"><span style="display:inline-block;transform:scaleX(0.900);transform-origin:center center">3800〜4200</span></div>
<div class="c dt tr tb" style="left:599px;top:1076.5px;width:69px;height:17.5px;font-size:10px;"><span style="display:inline-block;transform:scaleX(0.900);transform-origin:center center">4000〜4400</span></div>
<div class="a" style="left:74px;top:1101px;width:752px;height:2px;z-index:2;background:linear-gradient(#231815 50%,#6a6361 50%);"></div>
<div class="c hd tr" style="left:74px;top:1102px;width:104px;height:17px;font-size:11.5px;">型式</div>
<div class="c hd tb" style="left:74px;top:1119px;width:84px;height:18px;font-size:12px;">Type</div>
<div class="c hd tb tr" style="left:158px;top:1119px;width:20px;height:18px;font-size:12px;">B</div>
<div class="c hd tb" style="left:178px;top:1102px;width:45px;height:35px;font-size:12px;">A</div>
<div class="c hd tb" style="left:223px;top:1102px;width:44px;height:35px;font-size:12px;">P</div>
<div class="c hd tb" style="left:267px;top:1102px;width:45px;height:35px;font-size:12px;">T</div>
<div class="c hd tb" style="left:312px;top:1102px;width:44px;height:35px;font-size:12px;">R</div>
<div class="c hd tb" style="left:356px;top:1102px;width:45px;height:35px;font-size:12px;">E</div>
<div class="c hd tb" style="left:401px;top:1102px;width:45px;height:35px;font-size:12px;"><span>d<small>1</small></span></div>
<div class="c hd tb" style="left:446px;top:1102px;width:44px;height:35px;font-size:12px;"><span>d<small>3</small></span></div>
<div class="c hd tb" style="left:490px;top:1102px;width:45px;height:35px;font-size:12px;"><span>d<small>4</small></span></div>
<div class="c hd tb" style="left:535px;top:1102px;width:99px;height:35px;font-size:11.5px;line-height:12.5px;"><span style="display:inline-block;transform:scaleX(0.801);transform-origin:center center">付属品<br>(ステンレス皿ボルト)</span></div>
<div class="c hd tb" style="left:634px;top:1102px;width:49px;height:35px;font-size:11.5px;line-height:12.5px;"><span>吸着力N<br>{kgf}</span></div>
<div class="c hd tb" style="left:683px;top:1102px;width:71px;height:35px;font-size:11.5px;line-height:12.5px;"><span style="display:inline-block;transform:scaleX(0.928);transform-origin:center center">表面磁束密度<br>ガウス[G]</span></div>
<div class="c hd tb nr" style="left:754px;top:1102px;width:72px;height:35px;font-size:11.5px;">¥基準単価</div>
<div class="a" style="left:74px;top:1137px;width:83px;height:37px;background:#fff;"></div>
<div class="a" style="left:157px;top:1137px;width:1px;height:39px;background:#6e6e6e;"></div>
<div class="a" style="left:74px;top:1174px;width:84px;height:2px;background:#231815;"></div>
<span class="t" style="top:1146px;font-size:10px;line-height:10px;left:73px;transform:scaleX(0.767);transform-origin:left center;">（皿ボルトタイプ）</span>
<span class="t" style="top:1157.25px;font-size:12.5px;line-height:12.5px;font-weight:700;color:#009fe8;left:77px;transform:scaleX(0.985);transform-origin:left center;">HXUKSN</span>
<div class="c tr" style="left:158px;top:1137px;width:20px;height:19.5px;font-size:12.5px;font-weight:700;color:#009fe8;background:#fff;">10</div>
<div class="c dt" style="left:178px;top:1137px;width:45px;height:19.5px;font-size:12.5px;"><span style="display:inline-block;transform:scaleX(0.830);transform-origin:center center">25</span></div>
<div class="c dt" style="left:223px;top:1137px;width:44px;height:19.5px;font-size:12.5px;"><span style="display:inline-block;transform:scaleX(0.830);transform-origin:center center">15</span></div>
<div class="c dt" style="left:312px;top:1137px;width:44px;height:19.5px;font-size:12.5px;"><span style="display:inline-block;transform:scaleX(0.830);transform-origin:center center">5</span></div>
<div class="c dt" style="left:401px;top:1137px;width:45px;height:19.5px;font-size:12.5px;"><span style="display:inline-block;transform:scaleX(0.830);transform-origin:center center">7</span></div>
<div class="c dt" style="left:634px;top:1137px;width:49px;height:19.5px;font-size:12.5px;"><span style="display:inline-block;transform:scaleX(0.830);transform-origin:center center">13.7{1.4}</span></div>
<div class="c dt" style="left:683px;top:1137px;width:71px;height:19.5px;font-size:12.5px;"><span style="display:inline-block;transform:scaleX(0.830);transform-origin:center center">2700〜2900</span></div>
<div class="c dt nr" style="left:754px;top:1137px;width:72px;height:19.5px;font-size:12.5px;"><span style="display:inline-block;transform:scaleX(0.830);transform-origin:center center">1,440</span></div>
<div class="c tr tb" style="left:158px;top:1156.5px;width:20px;height:19.5px;font-size:12.5px;font-weight:700;color:#009fe8;background:#fff;">13</div>
<div class="c dt tb" style="left:178px;top:1156.5px;width:45px;height:19.5px;font-size:12.5px;"><span style="display:inline-block;transform:scaleX(0.830);transform-origin:center center">30</span></div>
<div class="c dt tb" style="left:223px;top:1156.5px;width:44px;height:19.5px;font-size:12.5px;"><span style="display:inline-block;transform:scaleX(0.830);transform-origin:center center">20</span></div>
<div class="c dt tb" style="left:312px;top:1156.5px;width:44px;height:19.5px;font-size:12.5px;"><span style="display:inline-block;transform:scaleX(0.830);transform-origin:center center">6.5</span></div>
<div class="c dt tb" style="left:401px;top:1156.5px;width:45px;height:19.5px;font-size:12.5px;"><span style="display:inline-block;transform:scaleX(0.830);transform-origin:center center">9.5</span></div>
<div class="c dt tb" style="left:634px;top:1156.5px;width:49px;height:19.5px;font-size:12.5px;"><span style="display:inline-block;transform:scaleX(0.830);transform-origin:center center">29.4{3.0}</span></div>
<div class="c dt tb" style="left:683px;top:1156.5px;width:71px;height:19.5px;font-size:12.5px;"><span style="display:inline-block;transform:scaleX(0.830);transform-origin:center center">2800〜3100</span></div>
<div class="c dt nr tb" style="left:754px;top:1156.5px;width:72px;height:19.5px;font-size:12.5px;"><span style="display:inline-block;transform:scaleX(0.830);transform-origin:center center">1,700</span></div>
<div class="c dt tb" style="left:267px;top:1137px;width:45px;height:39px;font-size:12.5px;"><span style="display:inline-block;transform:scaleX(0.830);transform-origin:center center">3</span></div>
<div class="c dt tb" style="left:356px;top:1137px;width:45px;height:39px;font-size:12.5px;"><span style="display:inline-block;transform:scaleX(0.830);transform-origin:center center">1.5</span></div>
<div class="c dt tb" style="left:446px;top:1137px;width:44px;height:39px;font-size:12.5px;"><span style="display:inline-block;transform:scaleX(0.830);transform-origin:center center">3.5</span></div>
<div class="c dt tb" style="left:490px;top:1137px;width:45px;height:39px;font-size:12.5px;"><span style="display:inline-block;transform:scaleX(0.830);transform-origin:center center">6.5</span></div>
<div class="c dt tb" style="left:535px;top:1137px;width:99px;height:39px;font-size:12.5px;"><span style="display:inline-block;transform:scaleX(0.830);transform-origin:center center">M3−6×2本</span></div>
<svg style="left:659px;top:1181.3px" width="10" height="10" viewBox="0 0 12 12"><circle cx="6" cy="6" r="5.2" fill="#fff" stroke="#e4007f" stroke-width="0.9"/><circle cx="6" cy="4.6" r="2.3" fill="#e4007f"/><polygon points="4.3,6.2 7.7,6.2 6,9.4" fill="#e4007f"/><rect x="5.3" y="9.2" width="1.4" height="0.9" fill="#e4007f"/></svg>
<span class="t" style="top:1181.05px;font-size:10.5px;line-height:10.5px;left:670.5px;transform:scaleX(0.873);transform-origin:left center;">吸着力・表面磁束密度は参考値です。</span>
<div class="a" style="left:841px;top:544px;width:60px;height:99px;background:#b7cfde;border-radius:4px 0 0 4px;"></div>
<div class="a" style="left:863.5px;top:551px;width:13.5px;height:13px;box-sizing:border-box;border:1px solid #8a9aa3;background:#e6eef3;font-size:12px;line-height:11.5px;text-align:center;letter-spacing:-0.8px;text-indent:-0.8px">35</div>
<div class="a" style="left:871.6px;top:566.5px;width:12px;font-size:11.8px;line-height:11.9px;writing-mode:vertical-rl;white-space:nowrap;font-weight:500">小物部品</div>
<div class="a" style="left:857.2px;top:566.5px;width:12px;font-size:11.8px;line-height:11.9px;writing-mode:vertical-rl;white-space:nowrap;font-weight:500">マグネット</div>
<div class="a" style="left:829.5px;top:1238.7px;width:17.2px;height:17.2px;background:#231815;"></div>
<span class="t" style="top:1239.35px;font-size:16.5px;line-height:16.5px;font-weight:700;color:#fff;left:833.51px;">2</span>
<span class="t" style="top:1239.35px;font-size:16.5px;line-height:16.5px;font-weight:700;left:848px;transform:scaleX(0.869);transform-origin:left center;">-328</span>
<svg style="left:74px;top:607px" width="232" height="67" viewBox="74 607 232 67"><rect x="75.2" y="608.0" width="27.4" height="26.4" rx="3.2" fill="#fff" stroke="#231815" stroke-width="1.6"/><path d="M82,632.2 L82,629.5 Q82,627.6 83.6,626.6 L86.2,621.6 Q86.8,620.4 88.2,620.4 L95.2,620.4 Q96.6,620.4 97.2,621.6 L99.6,626.6 Q101,627.6 101,629.5 L101,632.2 Z" fill="#50575b"/><rect x="88.6" y="623.2" width="6.2" height="6.6" fill="#fff"/><path d="M89.6,623.2 v6.6 M91.7,623.2 v6.6 M93.8,623.2 v6.6" stroke="#50575b" stroke-width="0.9"/><path d="M80,626.6 Q79.4,620.6 86,616.6 Q92,613 98,614.4" fill="none" stroke="#50575b" stroke-width="3.4" stroke-linecap="round"/><circle cx="80.6" cy="625.6" r="2.5" fill="#50575b"/><circle cx="97" cy="614.8" r="2.4" fill="#50575b"/><path d="M81.2,623.4 Q82,619.8 86.8,617.4 Q91.5,614.9 95.4,615" fill="none" stroke="#fff" stroke-width="0.8"/><path d="M92.6,624.6 L104.6,616.8" stroke="#50575b" stroke-width="1.5"/><path d="M94.6,626.2 L104.8,619.6" stroke="#50575b" stroke-width="1.1"/><rect x="75.2" y="644.6999999999999" width="27.4" height="26.4" rx="3.2" fill="#fff" stroke="#231815" stroke-width="1.6"/><rect x="79.2" y="650.2" width="12.6" height="14.4" fill="#50575b"/><path d="M92.6,655 L97.2,655 Q98.2,655 98.7,655.9 L100.6,659.6 L100.6,664.6 L92.6,664.6 Z" fill="#50575b"/><path d="M94,656.4 L96.8,656.4 L98.4,659.6 L94,659.6 Z" fill="#fff"/><circle cx="84.6" cy="665.4" r="2.7" fill="#50575b" stroke="#fff" stroke-width="0.9"/><circle cx="96" cy="665.4" r="2.7" fill="#50575b" stroke="#fff" stroke-width="0.9"/></svg>
<svg style="left:273px;top:607px" width="32" height="30" viewBox="273 607 32 30"><rect x="274.6" y="608.0" width="27.4" height="26.4" rx="3.2" fill="#fff" stroke="#231815" stroke-width="1.6"/><path d="M279.2,611.4 L284.6,611.4 L288.3,617.6 L292,611.4 L297.4,611.4 L292.3,619.6 L296.6,619.6 L296.6,622.2 L290.6,622.2 L290.6,624.4 L296.6,624.4 L296.6,627 L290.6,627 L290.6,631.6 L286,631.6 L286,627 L280,627 L280,624.4 L286,624.4 L286,622.2 L280,622.2 L280,619.6 L284.3,619.6 Z" fill="#50575b"/></svg>
<span class="t" style="top:613.25px;font-size:7.3px;line-height:7.3px;font-weight:700;left:107.8px;">Order</span>
<span class="t" style="top:622.3px;font-size:7px;line-height:7px;font-weight:700;left:107.8px;">注文例</span>
<span class="t" style="top:613.25px;font-size:7.3px;line-height:7.3px;font-weight:700;left:307.2px;">Price</span>
<span class="t" style="top:622.3px;font-size:7px;line-height:7px;font-weight:700;left:307.2px;">価格</span>
<span class="t" style="top:650.25px;font-size:7.3px;line-height:7.3px;font-weight:700;left:107.8px;">Delivery</span>
<span class="t" style="top:659.3px;font-size:7px;line-height:7px;font-weight:700;left:107.8px;">出荷日</span>
<div class="c" style="left:141px;top:607px;width:57px;height:15px;font-size:9.5px;font-weight:700;border:1px solid #231815;background:#fff;">型式</div>
<span class="t" style="top:624.95px;font-size:9.7px;line-height:9.7px;font-weight:700;color:#009fe8;left:150.18px;">HXCC10</span>
<div class="a" style="left:141px;top:644px;width:67px;height:20px;background:#fff;border:1px solid #9a9a9a;border-radius:2.5px;box-sizing:border-box;"></div>
<div class="a" style="left:141px;top:644px;width:22px;height:20px;background:#fff100;border-radius:2.5px 0 0 2.5px;"></div>
<svg style="left:144px;top:646px" width="16" height="16" viewBox="0 0 16 16"><path d="M3,5.2 L9.2,2.2 L13.4,4.4 L13.4,10.6 L7.4,13.8 L3,11.2 Z M3,5.2 L7.4,7.6 L13.4,4.4 M7.4,7.6 L7.4,13.8" fill="none" stroke="#231815" stroke-width="1.5" stroke-linejoin="round"/></svg>
<span class="t" style="top:649px;font-size:10px;line-height:10px;color:#6b6b6b;left:168.5px;transform:scaleX(0.984);transform-origin:left center;">在 庫 品</span>
<span class="t" style="top:648.75px;font-size:10.5px;line-height:10.5px;left:210px;transform:scaleX(0.845);transform-origin:left center;">翌日出荷</span>
<svg style="left:249px;top:649.5px" width="11" height="9" viewBox="0 0 11 9"><rect x="0" y="1.5" width="6.5" height="6.5" fill="#231815"/><path d="M1.3,6.8 L4.8,3 M4.8,3 L4.8,5 M4.8,3 L2.9,3" stroke="#fff" stroke-width="0.8" fill="none"/><path d="M7.3,2 h3.5 M7.3,4.6 h3.5 M8.6,2 v6" stroke="#231815" stroke-width="0.9" fill="none"/></svg>
<span class="t" style="top:648.75px;font-size:10.5px;line-height:10.5px;font-weight:700;left:262px;transform:scaleX(0.862);transform-origin:left center;">P.133</span>
<svg style="left:139.8px;top:666px" width="10" height="10" viewBox="0 0 12 12"><circle cx="6" cy="6" r="5.2" fill="#fff" stroke="#e4007f" stroke-width="0.9"/><circle cx="6" cy="4.6" r="2.3" fill="#e4007f"/><polygon points="4.3,6.2 7.7,6.2 6,9.4" fill="#e4007f"/><rect x="5.3" y="9.2" width="1.4" height="0.9" fill="#e4007f"/></svg>
<span class="t" style="top:665.75px;font-size:10.5px;line-height:10.5px;left:150.5px;transform:scaleX(0.759);transform-origin:left center;">ご希望により<span class="mg">PM6:00</span>迄、当日出荷受付致します。</span>
<div class="a" style="left:340px;top:608.4px;width:8.2px;height:7.8px;background:#004ea2;"></div>
<span class="t" style="top:606.95px;font-size:10.5px;line-height:10.5px;font-weight:700;color:#004ea2;left:349.6px;transform:scaleX(0.798);transform-origin:left center;">数量スライド価格</span>
<span class="t" style="top:608.4px;font-size:8px;line-height:8px;left:418px;">（</span>
<svg style="left:424.85px;top:608.65px" width="7.5" height="7.5" viewBox="0 0 12 12"><circle cx="6" cy="6" r="5.2" fill="#fff" stroke="#e4007f" stroke-width="0.9"/><circle cx="6" cy="4.6" r="2.3" fill="#e4007f"/><polygon points="4.3,6.2 7.7,6.2 6,9.4" fill="#e4007f"/><rect x="5.3" y="9.2" width="1.4" height="0.9" fill="#e4007f"/></svg>
<span class="t" style="top:608.4px;font-size:8px;line-height:8px;left:432.6px;transform:scaleX(0.833);transform-origin:left center;">1円未満切り捨て）</span>
<span class="t" style="top:608.4px;font-size:8px;line-height:8px;font-weight:700;left:493.5px;transform:scaleX(0.881);transform-origin:left center;">P.133</span>
<div class="a" style="left:340px;top:617.5px;width:182px;height:1.5px;background:#231815;z-index:2;"></div>
<div class="c hd tb" style="left:340px;top:618.5px;width:38px;height:18.5px;font-size:6.8px;">数量区分</div>
<div class="c hd" style="left:378px;top:618.5px;width:111px;height:9px;font-size:6.8px;">標準対応</div>
<div class="c hd nr" style="left:489px;top:618.5px;width:33px;height:9px;font-size:6.8px;">個別対応</div>
<div class="c hd tb" style="left:378px;top:627.5px;width:111px;height:9.5px;font-size:6.8px;">小口</div>
<div class="c hd tb nr" style="left:489px;top:627.5px;width:33px;height:9.5px;font-size:6.8px;">大口</div>
<div class="c hd" style="left:340px;top:637px;width:38px;height:9.5px;font-size:6.8px;">数　量</div>
<div class="c hd tb" style="left:340px;top:646.5px;width:38px;height:9.5px;font-size:6.8px;">値引率</div>
<div class="c dt" style="left:378px;top:637px;width:37px;height:9.5px;font-size:8px;color:#3e3a39;padding-top:1px;"><span style="display:inline-block;transform:scaleX(0.900);transform-origin:center center">1〜9</span></div>
<div class="c dt tb" style="left:378px;top:646.5px;width:37px;height:9.5px;font-size:7.5px;color:#3e3a39;padding-top:0;"><span style="display:inline-block;transform:scaleX(0.950);transform-origin:center center">基準単価</span></div>
<div class="c dt" style="left:415px;top:637px;width:36px;height:9.5px;font-size:8px;color:#3e3a39;padding-top:1px;"><span style="display:inline-block;transform:scaleX(0.900);transform-origin:center center">10〜19</span></div>
<div class="c dt tb" style="left:415px;top:646.5px;width:36px;height:9.5px;font-size:7.5px;color:#3e3a39;padding-top:0;"><span style="display:inline-block;transform:scaleX(0.950);transform-origin:center center">5%</span></div>
<div class="c dt" style="left:451px;top:637px;width:38px;height:9.5px;font-size:8px;color:#3e3a39;padding-top:1px;"><span style="display:inline-block;transform:scaleX(0.900);transform-origin:center center">20〜50</span></div>
<div class="c dt tb" style="left:451px;top:646.5px;width:38px;height:9.5px;font-size:7.5px;color:#3e3a39;padding-top:0;"><span style="display:inline-block;transform:scaleX(0.950);transform-origin:center center">10%</span></div>
<div class="c pk nr" style="left:489px;top:637px;width:33px;height:9.5px;font-size:8px;color:#3e3a39;padding-top:1px;"><span style="display:inline-block;transform:scaleX(0.900);transform-origin:center center">51〜</span></div>
<div class="c pk tb nr" style="left:489px;top:646.5px;width:33px;height:9.5px;font-size:7.5px;color:#3e3a39;padding-top:0;"><span style="display:inline-block;transform:scaleX(0.950);transform-origin:center center">お見積り</span></div>
<div class="a" style="left:450px;top:635.5px;width:39px;height:11px;border:2px solid #e60012;box-sizing:border-box;"></div>
<svg style="left:393.55px;top:656.75px" width="8.5" height="8.5" viewBox="0 0 12 12"><circle cx="6" cy="6" r="5.2" fill="#fff" stroke="#e4007f" stroke-width="0.9"/><circle cx="6" cy="4.6" r="2.3" fill="#e4007f"/><polygon points="4.3,6.2 7.7,6.2 6,9.4" fill="#e4007f"/><rect x="5.3" y="9.2" width="1.4" height="0.9" fill="#e4007f"/></svg>
<span class="t" style="top:656.5px;font-size:9px;line-height:9px;left:402.5px;transform:scaleX(0.693);transform-origin:left center;">表示数量超えはWOSにてご確認ください。</span>
<svg style="left:74px;top:1185.4px" width="232" height="67" viewBox="74 607 232 67"><rect x="75.2" y="608.0" width="27.4" height="26.4" rx="3.2" fill="#fff" stroke="#231815" stroke-width="1.6"/><path d="M82,632.2 L82,629.5 Q82,627.6 83.6,626.6 L86.2,621.6 Q86.8,620.4 88.2,620.4 L95.2,620.4 Q96.6,620.4 97.2,621.6 L99.6,626.6 Q101,627.6 101,629.5 L101,632.2 Z" fill="#50575b"/><rect x="88.6" y="623.2" width="6.2" height="6.6" fill="#fff"/><path d="M89.6,623.2 v6.6 M91.7,623.2 v6.6 M93.8,623.2 v6.6" stroke="#50575b" stroke-width="0.9"/><path d="M80,626.6 Q79.4,620.6 86,616.6 Q92,613 98,614.4" fill="none" stroke="#50575b" stroke-width="3.4" stroke-linecap="round"/><circle cx="80.6" cy="625.6" r="2.5" fill="#50575b"/><circle cx="97" cy="614.8" r="2.4" fill="#50575b"/><path d="M81.2,623.4 Q82,619.8 86.8,617.4 Q91.5,614.9 95.4,615" fill="none" stroke="#fff" stroke-width="0.8"/><path d="M92.6,624.6 L104.6,616.8" stroke="#50575b" stroke-width="1.5"/><path d="M94.6,626.2 L104.8,619.6" stroke="#50575b" stroke-width="1.1"/><rect x="75.2" y="644.6999999999999" width="27.4" height="26.4" rx="3.2" fill="#fff" stroke="#231815" stroke-width="1.6"/><rect x="79.2" y="650.2" width="12.6" height="14.4" fill="#50575b"/><path d="M92.6,655 L97.2,655 Q98.2,655 98.7,655.9 L100.6,659.6 L100.6,664.6 L92.6,664.6 Z" fill="#50575b"/><path d="M94,656.4 L96.8,656.4 L98.4,659.6 L94,659.6 Z" fill="#fff"/><circle cx="84.6" cy="665.4" r="2.7" fill="#50575b" stroke="#fff" stroke-width="0.9"/><circle cx="96" cy="665.4" r="2.7" fill="#50575b" stroke="#fff" stroke-width="0.9"/></svg>
<svg style="left:315.5px;top:1185.4px" width="32" height="30" viewBox="273 607 32 30"><rect x="274.6" y="608.0" width="27.4" height="26.4" rx="3.2" fill="#fff" stroke="#231815" stroke-width="1.6"/><path d="M279.2,611.4 L284.6,611.4 L288.3,617.6 L292,611.4 L297.4,611.4 L292.3,619.6 L296.6,619.6 L296.6,622.2 L290.6,622.2 L290.6,624.4 L296.6,624.4 L296.6,627 L290.6,627 L290.6,631.6 L286,631.6 L286,627 L280,627 L280,624.4 L286,624.4 L286,622.2 L280,622.2 L280,619.6 L284.3,619.6 Z" fill="#50575b"/></svg>
<span class="t" style="top:1191.65px;font-size:7.3px;line-height:7.3px;font-weight:700;left:107.8px;">Order</span>
<span class="t" style="top:1200.7px;font-size:7px;line-height:7px;font-weight:700;left:107.8px;">注文例</span>
<span class="t" style="top:1191.65px;font-size:7.3px;line-height:7.3px;font-weight:700;left:349.7px;">Price</span>
<span class="t" style="top:1200.7px;font-size:7px;line-height:7px;font-weight:700;left:349.7px;">価格</span>
<span class="t" style="top:1228.65px;font-size:7.3px;line-height:7.3px;font-weight:700;left:107.8px;">Delivery</span>
<span class="t" style="top:1237.7px;font-size:7px;line-height:7px;font-weight:700;left:107.8px;">出荷日</span>
<div class="c" style="left:141px;top:1185.4px;width:57px;height:15px;font-size:9.5px;font-weight:700;border:1px solid #231815;background:#fff;">型式</div>
<span class="t" style="top:1203.35px;font-size:9.7px;line-height:9.7px;font-weight:700;color:#009fe8;left:147.22px;">HXUKZ10</span>
<div class="a" style="left:141px;top:1222.4px;width:67px;height:20px;background:#fff;border:1px solid #9a9a9a;border-radius:2.5px;box-sizing:border-box;"></div>
<div class="a" style="left:141px;top:1222.4px;width:22px;height:20px;background:#fff100;border-radius:2.5px 0 0 2.5px;"></div>
<svg style="left:144px;top:1224.4px" width="16" height="16" viewBox="0 0 16 16"><path d="M3,5.2 L9.2,2.2 L13.4,4.4 L13.4,10.6 L7.4,13.8 L3,11.2 Z M3,5.2 L7.4,7.6 L13.4,4.4 M7.4,7.6 L7.4,13.8" fill="none" stroke="#231815" stroke-width="1.5" stroke-linejoin="round"/></svg>
<span class="t" style="top:1227.4px;font-size:10px;line-height:10px;color:#6b6b6b;left:168.5px;transform:scaleX(0.984);transform-origin:left center;">在 庫 品</span>
<span class="t" style="top:1227.15px;font-size:10.5px;line-height:10.5px;left:210px;transform:scaleX(0.845);transform-origin:left center;">翌日出荷</span>
<svg style="left:249px;top:1227.9px" width="11" height="9" viewBox="0 0 11 9"><rect x="0" y="1.5" width="6.5" height="6.5" fill="#231815"/><path d="M1.3,6.8 L4.8,3 M4.8,3 L4.8,5 M4.8,3 L2.9,3" stroke="#fff" stroke-width="0.8" fill="none"/><path d="M7.3,2 h3.5 M7.3,4.6 h3.5 M8.6,2 v6" stroke="#231815" stroke-width="0.9" fill="none"/></svg>
<span class="t" style="top:1227.15px;font-size:10.5px;line-height:10.5px;font-weight:700;left:262px;transform:scaleX(0.862);transform-origin:left center;">P.133</span>
<svg style="left:139.8px;top:1244.4px" width="10" height="10" viewBox="0 0 12 12"><circle cx="6" cy="6" r="5.2" fill="#fff" stroke="#e4007f" stroke-width="0.9"/><circle cx="6" cy="4.6" r="2.3" fill="#e4007f"/><polygon points="4.3,6.2 7.7,6.2 6,9.4" fill="#e4007f"/><rect x="5.3" y="9.2" width="1.4" height="0.9" fill="#e4007f"/></svg>
<span class="t" style="top:1244.15px;font-size:10.5px;line-height:10.5px;left:150.5px;transform:scaleX(0.759);transform-origin:left center;">ご希望により<span class="mg">PM6:00</span>迄、当日出荷受付致します。</span>
<div class="a" style="left:382.5px;top:1186.8px;width:8.2px;height:7.8px;background:#004ea2;"></div>
<span class="t" style="top:1185.35px;font-size:10.5px;line-height:10.5px;font-weight:700;color:#004ea2;left:392.1px;transform:scaleX(0.798);transform-origin:left center;">数量スライド価格</span>
<span class="t" style="top:1186.8px;font-size:8px;line-height:8px;left:460.5px;">（</span>
<svg style="left:467.35px;top:1187.05px" width="7.5" height="7.5" viewBox="0 0 12 12"><circle cx="6" cy="6" r="5.2" fill="#fff" stroke="#e4007f" stroke-width="0.9"/><circle cx="6" cy="4.6" r="2.3" fill="#e4007f"/><polygon points="4.3,6.2 7.7,6.2 6,9.4" fill="#e4007f"/><rect x="5.3" y="9.2" width="1.4" height="0.9" fill="#e4007f"/></svg>
<span class="t" style="top:1186.8px;font-size:8px;line-height:8px;left:475.1px;transform:scaleX(0.833);transform-origin:left center;">1円未満切り捨て）</span>
<span class="t" style="top:1186.8px;font-size:8px;line-height:8px;font-weight:700;left:536px;transform:scaleX(0.881);transform-origin:left center;">P.133</span>
<div class="a" style="left:382.5px;top:1195.9px;width:182px;height:1.5px;background:#231815;z-index:2;"></div>
<div class="c hd tb" style="left:382.5px;top:1196.9px;width:38px;height:18.5px;font-size:6.8px;">数量区分</div>
<div class="c hd" style="left:420.5px;top:1196.9px;width:111px;height:9px;font-size:6.8px;">標準対応</div>
<div class="c hd nr" style="left:531.5px;top:1196.9px;width:33px;height:9px;font-size:6.8px;">個別対応</div>
<div class="c hd tb" style="left:420.5px;top:1205.9px;width:111px;height:9.5px;font-size:6.8px;">小口</div>
<div class="c hd tb nr" style="left:531.5px;top:1205.9px;width:33px;height:9.5px;font-size:6.8px;">大口</div>
<div class="c hd" style="left:382.5px;top:1215.4px;width:38px;height:9.5px;font-size:6.8px;">数　量</div>
<div class="c hd tb" style="left:382.5px;top:1224.9px;width:38px;height:9.5px;font-size:6.8px;">値引率</div>
<div class="c dt" style="left:420.5px;top:1215.4px;width:37px;height:9.5px;font-size:8px;color:#3e3a39;padding-top:1px;"><span style="display:inline-block;transform:scaleX(0.900);transform-origin:center center">1〜19</span></div>
<div class="c dt tb" style="left:420.5px;top:1224.9px;width:37px;height:9.5px;font-size:7.5px;color:#3e3a39;padding-top:0;"><span style="display:inline-block;transform:scaleX(0.950);transform-origin:center center">基準単価</span></div>
<div class="c dt" style="left:457.5px;top:1215.4px;width:36px;height:9.5px;font-size:8px;color:#3e3a39;padding-top:1px;"><span style="display:inline-block;transform:scaleX(0.900);transform-origin:center center">20〜24</span></div>
<div class="c dt tb" style="left:457.5px;top:1224.9px;width:36px;height:9.5px;font-size:7.5px;color:#3e3a39;padding-top:0;"><span style="display:inline-block;transform:scaleX(0.950);transform-origin:center center">5%</span></div>
<div class="c dt" style="left:493.5px;top:1215.4px;width:38px;height:9.5px;font-size:8px;color:#3e3a39;padding-top:1px;"><span style="display:inline-block;transform:scaleX(0.900);transform-origin:center center">25〜50</span></div>
<div class="c dt tb" style="left:493.5px;top:1224.9px;width:38px;height:9.5px;font-size:7.5px;color:#3e3a39;padding-top:0;"><span style="display:inline-block;transform:scaleX(0.950);transform-origin:center center">10%</span></div>
<div class="c pk nr" style="left:531.5px;top:1215.4px;width:33px;height:9.5px;font-size:8px;color:#3e3a39;padding-top:1px;"><span style="display:inline-block;transform:scaleX(0.900);transform-origin:center center">51〜</span></div>
<div class="c pk tb nr" style="left:531.5px;top:1224.9px;width:33px;height:9.5px;font-size:7.5px;color:#3e3a39;padding-top:0;"><span style="display:inline-block;transform:scaleX(0.950);transform-origin:center center">お見積り</span></div>
<div class="a" style="left:492.5px;top:1213.9px;width:39px;height:11px;border:2px solid #e60012;box-sizing:border-box;"></div>
<svg style="left:436.05px;top:1235.15px" width="8.5" height="8.5" viewBox="0 0 12 12"><circle cx="6" cy="6" r="5.2" fill="#fff" stroke="#e4007f" stroke-width="0.9"/><circle cx="6" cy="4.6" r="2.3" fill="#e4007f"/><polygon points="4.3,6.2 7.7,6.2 6,9.4" fill="#e4007f"/><rect x="5.3" y="9.2" width="1.4" height="0.9" fill="#e4007f"/></svg>
<span class="t" style="top:1234.9px;font-size:9px;line-height:9px;left:445px;transform:scaleX(0.693);transform-origin:left center;">表示数量超えはWOSにてご確認ください。</span>
</div>
</body>
</html>
